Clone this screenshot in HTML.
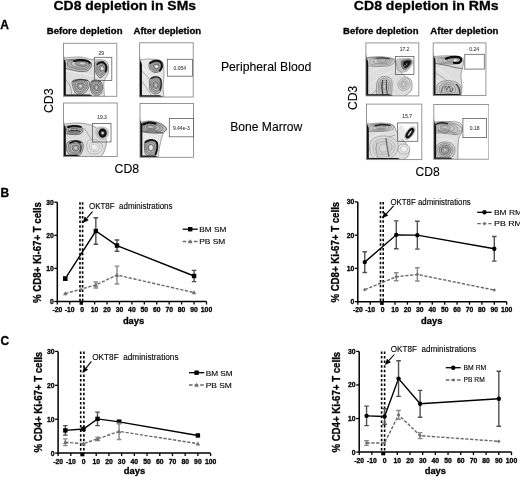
<!DOCTYPE html>
<html><head><meta charset="utf-8"><style>
html,body{margin:0;padding:0;background:#fff;width:520px;height:477px;overflow:hidden}
svg{display:block;will-change:transform}
text{font-family:"Liberation Sans", sans-serif;white-space:pre;stroke-width:0.12px}
text[font-weight=bold]{stroke-width:0.3px}
</style></head><body>
<svg width="520" height="477" viewBox="0 0 520 477">
<defs><filter id="soft" x="0" y="0" width="1" height="1"><feGaussianBlur stdDeviation="0.25"/></filter><clipPath id="clip0"><rect x="63.5" y="43.3" width="53.3" height="53.0"/></clipPath><clipPath id="clip1"><rect x="139.6" y="42.8" width="53.599999999999994" height="54.2"/></clipPath><clipPath id="clip2"><rect x="63.5" y="103" width="53.7" height="53.5"/></clipPath><clipPath id="clip3"><rect x="140" y="103.5" width="53.5" height="53.80000000000001"/></clipPath><clipPath id="clip4"><rect x="365.9" y="42.9" width="52.900000000000034" height="53.00000000000001"/></clipPath><clipPath id="clip5"><rect x="433.2" y="42.9" width="52.69999999999999" height="52.699999999999996"/></clipPath><clipPath id="clip6"><rect x="366.5" y="104.1" width="55.30000000000001" height="55.5"/></clipPath><clipPath id="clip7"><rect x="433.8" y="104.5" width="55.099999999999966" height="54.69999999999999"/></clipPath><pattern id="tex" width="6" height="5" patternUnits="userSpaceOnUse"><path d="M0,1 C2,0 4,2.5 6,1.2 M0,3.6 C1.5,4.6 4,3 6,4" fill="none" stroke="#888" stroke-width="0.4"/></pattern></defs>
<text x="53.5" y="10.3" font-size="13.3" font-weight="bold" textLength="142.5" lengthAdjust="spacingAndGlyphs" fill="#000" stroke="#000">CD8 depletion in SMs</text>
<text x="353.8" y="10.3" font-size="13.3" font-weight="bold" textLength="144.7" lengthAdjust="spacingAndGlyphs" fill="#000" stroke="#000">CD8 depletion in RMs</text>
<text x="0.3" y="28.6" font-size="12" font-weight="bold" fill="#000" stroke="#000">A</text>
<text x="46.8" y="33.8" font-size="9.4" font-weight="bold" textLength="75.7" lengthAdjust="spacingAndGlyphs" fill="#000" stroke="#000">Before depletion</text>
<text x="133.5" y="33.8" font-size="9.4" font-weight="bold" textLength="67.7" lengthAdjust="spacingAndGlyphs" fill="#000" stroke="#000">After depletion</text>
<text x="343" y="33.8" font-size="9.4" font-weight="bold" textLength="75.5" lengthAdjust="spacingAndGlyphs" fill="#000" stroke="#000">Before depletion</text>
<text x="430.2" y="33.8" font-size="9.4" font-weight="bold" textLength="68.3" lengthAdjust="spacingAndGlyphs" fill="#000" stroke="#000">After depletion</text>
<text x="220.9" y="70.9" font-size="12.2" textLength="90.5" lengthAdjust="spacingAndGlyphs" fill="#000" stroke="#000">Peripheral Blood</text>
<text x="230.2" y="130.9" font-size="12.2" textLength="72" lengthAdjust="spacingAndGlyphs" fill="#000" stroke="#000">Bone Marrow</text>
<text x="114.6" y="173.1" font-size="12.3" textLength="24.6" lengthAdjust="spacingAndGlyphs" fill="#000" stroke="#000">CD8</text>
<text x="415.5" y="175.8" font-size="12.3" textLength="24.2" lengthAdjust="spacingAndGlyphs" fill="#000" stroke="#000">CD8</text>
<text x="53.1" y="113.1" font-size="12.3" textLength="24.7" lengthAdjust="spacingAndGlyphs" transform="rotate(-90 53.1 113.1)" fill="#000" stroke="#000">CD3</text>
<text x="357.0" y="110.0" font-size="12.3" textLength="24.2" lengthAdjust="spacingAndGlyphs" transform="rotate(-90 357.0 110.0)" fill="#000" stroke="#000">CD3</text>
<g filter="url(#soft)">
<g clip-path="url(#clip0)">
<path d="M64.00,58.00 C64.00,51.58 61.33,58.17 64.00,58.00 C66.67,57.83 75.33,56.75 80.00,57.00 C84.67,57.25 87.67,58.83 92.00,59.50 C96.33,60.17 103.25,58.92 106.00,61.00 C108.75,63.08 108.83,68.50 108.50,72.00 C108.17,75.50 104.67,77.92 104.00,82.00 C103.33,86.08 104.42,94.08 104.50,96.50 C104.58,98.92 111.25,96.50 104.50,96.50 C97.75,96.50 70.75,96.50 64.00,96.50 C57.25,96.50 64.00,102.92 64.00,96.50 C64.00,90.08 64.00,64.42 64.00,58.00Z" fill="rgb(222,222,222)" stroke="#555" stroke-width="0.5"/>
<path d="M64.00,71.00 C66.00,71.25 71.33,71.75 76.00,72.50 C80.67,73.25 87.50,74.58 92.00,75.50 C96.50,76.42 101.17,77.58 103.00,78.00" fill="none" stroke="#f4f4f4" stroke-width="0.9"/>
<path d="M66.00,80.00 C66.67,81.00 69.00,83.33 70.00,86.00 C71.00,88.67 71.67,94.33 72.00,96.00" fill="none" stroke="#666" stroke-width="0.5"/>
<path d="M64.00,61.00 C65.33,59.75 69.00,59.78 72.00,59.50 C75.00,59.22 79.17,59.05 82.00,59.30 C84.83,59.55 87.42,60.05 89.00,61.00 C90.58,61.95 91.67,63.42 91.50,65.00 C91.33,66.58 89.92,69.42 88.00,70.50 C86.08,71.58 83.00,71.67 80.00,71.50 C77.00,71.33 72.67,70.25 70.00,69.50 C67.33,68.75 65.00,68.42 64.00,67.00 C63.00,65.58 62.67,62.25 64.00,61.00Z" fill="rgb(200,200,200)" stroke="#333" stroke-width="0.6"/>
<path d="M68.00,61.40 C69.07,60.40 72.00,60.43 74.40,60.20 C76.80,59.97 80.13,59.84 82.40,60.04 C84.67,60.24 86.73,60.64 88.00,61.40 C89.27,62.16 90.13,63.33 90.00,64.60 C89.87,65.87 88.73,68.13 87.20,69.00 C85.67,69.87 83.20,69.93 80.80,69.80 C78.40,69.67 74.93,68.80 72.80,68.20 C70.67,67.60 68.80,67.33 68.00,66.20 C67.20,65.07 66.93,62.40 68.00,61.40Z" fill="rgb(175,175,175)" stroke="#444" stroke-width="0.5"/>
<path d="M72.00,61.80 C72.80,61.05 75.00,61.07 76.80,60.90 C78.60,60.73 81.10,60.63 82.80,60.78 C84.50,60.93 86.05,61.23 87.00,61.80 C87.95,62.37 88.60,63.25 88.50,64.20 C88.40,65.15 87.55,66.85 86.40,67.50 C85.25,68.15 83.40,68.20 81.60,68.10 C79.80,68.00 77.20,67.35 75.60,66.90 C74.00,66.45 72.60,66.25 72.00,65.40 C71.40,64.55 71.20,62.55 72.00,61.80Z" fill="rgb(195,195,195)" stroke="#444" stroke-width="0.5"/>
<path d="M76.00,62.20 C76.53,61.70 78.00,61.71 79.20,61.60 C80.40,61.49 82.07,61.42 83.20,61.52 C84.33,61.62 85.37,61.82 86.00,62.20 C86.63,62.58 87.07,63.17 87.00,63.80 C86.93,64.43 86.37,65.57 85.60,66.00 C84.83,66.43 83.60,66.47 82.40,66.40 C81.20,66.33 79.47,65.90 78.40,65.60 C77.33,65.30 76.40,65.17 76.00,64.60 C75.60,64.03 75.47,62.70 76.00,62.20Z" fill="rgb(160,160,160)" stroke="#333" stroke-width="0.55"/>
<path d="M79.60,62.56 C79.89,62.28 80.70,62.29 81.36,62.23 C82.02,62.17 82.94,62.13 83.56,62.19 C84.18,62.24 84.75,62.35 85.10,62.56 C85.45,62.77 85.69,63.09 85.65,63.44 C85.61,63.79 85.30,64.41 84.88,64.65 C84.46,64.89 83.78,64.91 83.12,64.87 C82.46,64.83 81.51,64.59 80.92,64.43 C80.33,64.26 79.82,64.19 79.60,63.88 C79.38,63.57 79.31,62.83 79.60,62.56Z" fill="rgb(210,210,210)" stroke="#555" stroke-width="0.4"/>
<path d="M74.00,61.20 C75.00,61.00 77.83,60.07 80.00,60.00 C82.17,59.93 85.33,60.30 87.00,60.80 C88.67,61.30 89.50,62.63 90.00,63.00" fill="none" stroke="#111" stroke-width="1.8" stroke-linecap="round"/>
<path d="M95.00,63.00 C95.75,62.08 97.50,61.67 99.00,61.50 C100.50,61.33 102.67,61.25 104.00,62.00 C105.33,62.75 106.50,64.50 107.00,66.00 C107.50,67.50 107.50,69.50 107.00,71.00 C106.50,72.50 105.17,73.83 104.00,75.00 C102.83,76.17 101.33,78.33 100.00,78.00 C98.67,77.67 96.92,74.83 96.00,73.00 C95.08,71.17 94.67,68.67 94.50,67.00 C94.33,65.33 94.25,63.92 95.00,63.00Z" fill="rgb(200,200,200)" stroke="#333" stroke-width="0.6"/>
<path d="M96.40,64.00 C97.00,63.27 98.40,62.93 99.60,62.80 C100.80,62.67 102.53,62.60 103.60,63.20 C104.67,63.80 105.60,65.20 106.00,66.40 C106.40,67.60 106.40,69.20 106.00,70.40 C105.60,71.60 104.53,72.67 103.60,73.60 C102.67,74.53 101.47,76.27 100.40,76.00 C99.33,75.73 97.93,73.47 97.20,72.00 C96.47,70.53 96.13,68.53 96.00,67.20 C95.87,65.87 95.80,64.73 96.40,64.00Z" fill="rgb(175,175,175)" stroke="#444" stroke-width="0.5"/>
<path d="M97.80,65.00 C98.25,64.45 99.30,64.20 100.20,64.10 C101.10,64.00 102.40,63.95 103.20,64.40 C104.00,64.85 104.70,65.90 105.00,66.80 C105.30,67.70 105.30,68.90 105.00,69.80 C104.70,70.70 103.90,71.50 103.20,72.20 C102.50,72.90 101.60,74.20 100.80,74.00 C100.00,73.80 98.95,72.10 98.40,71.00 C97.85,69.90 97.60,68.40 97.50,67.40 C97.40,66.40 97.35,65.55 97.80,65.00Z" fill="rgb(195,195,195)" stroke="#444" stroke-width="0.5"/>
<path d="M99.20,66.00 C99.50,65.63 100.20,65.47 100.80,65.40 C101.40,65.33 102.27,65.30 102.80,65.60 C103.33,65.90 103.80,66.60 104.00,67.20 C104.20,67.80 104.20,68.60 104.00,69.20 C103.80,69.80 103.27,70.33 102.80,70.80 C102.33,71.27 101.73,72.13 101.20,72.00 C100.67,71.87 99.97,70.73 99.60,70.00 C99.23,69.27 99.07,68.27 99.00,67.60 C98.93,66.93 98.90,66.37 99.20,66.00Z" fill="rgb(160,160,160)" stroke="#333" stroke-width="0.55"/>
<path d="M100.46,66.90 C100.62,66.70 101.01,66.61 101.34,66.57 C101.67,66.53 102.15,66.51 102.44,66.68 C102.73,66.84 102.99,67.23 103.10,67.56 C103.21,67.89 103.21,68.33 103.10,68.66 C102.99,68.99 102.70,69.28 102.44,69.54 C102.18,69.80 101.85,70.27 101.56,70.20 C101.27,70.13 100.88,69.50 100.68,69.10 C100.48,68.70 100.39,68.15 100.35,67.78 C100.31,67.41 100.29,67.10 100.46,66.90Z" fill="rgb(210,210,210)" stroke="#555" stroke-width="0.4"/>
<path d="M97.50,64.00 C98.08,63.72 99.83,62.42 101.00,62.30 C102.17,62.18 103.62,62.52 104.50,63.30 C105.38,64.08 106.12,65.63 106.30,67.00 C106.48,68.37 105.72,70.75 105.60,71.50" fill="none" stroke="#111" stroke-width="1.8" stroke-linecap="round"/>
<circle cx="102.4" cy="68.6" r="1.2" fill="#fff"/>
<path d="M72.50,81.00 C73.67,79.72 77.42,79.38 80.00,79.30 C82.58,79.22 86.42,79.55 88.00,80.50 C89.58,81.45 89.75,83.25 89.50,85.00 C89.25,86.75 87.92,89.28 86.50,91.00 C85.08,92.72 82.75,94.88 81.00,95.30 C79.25,95.72 77.33,94.88 76.00,93.50 C74.67,92.12 73.58,89.08 73.00,87.00 C72.42,84.92 71.33,82.28 72.50,81.00Z" fill="rgb(200,200,200)" stroke="#333" stroke-width="0.6"/>
<path d="M74.10,82.00 C75.03,80.97 78.03,80.71 80.10,80.64 C82.17,80.57 85.23,80.84 86.50,81.60 C87.77,82.36 87.90,83.80 87.70,85.20 C87.50,86.60 86.43,88.63 85.30,90.00 C84.17,91.37 82.30,93.11 80.90,93.44 C79.50,93.77 77.97,93.11 76.90,92.00 C75.83,90.89 74.97,88.47 74.50,86.80 C74.03,85.13 73.17,83.03 74.10,82.00Z" fill="rgb(175,175,175)" stroke="#444" stroke-width="0.5"/>
<path d="M75.70,83.00 C76.40,82.23 78.65,82.03 80.20,81.98 C81.75,81.93 84.05,82.13 85.00,82.70 C85.95,83.27 86.05,84.35 85.90,85.40 C85.75,86.45 84.95,87.97 84.10,89.00 C83.25,90.03 81.85,91.33 80.80,91.58 C79.75,91.83 78.60,91.33 77.80,90.50 C77.00,89.67 76.35,87.85 76.00,86.60 C75.65,85.35 75.00,83.77 75.70,83.00Z" fill="rgb(195,195,195)" stroke="#444" stroke-width="0.5"/>
<path d="M77.30,84.00 C77.77,83.49 79.27,83.35 80.30,83.32 C81.33,83.29 82.87,83.42 83.50,83.80 C84.13,84.18 84.20,84.90 84.10,85.60 C84.00,86.30 83.47,87.31 82.90,88.00 C82.33,88.69 81.40,89.55 80.70,89.72 C80.00,89.89 79.23,89.55 78.70,89.00 C78.17,88.45 77.73,87.23 77.50,86.40 C77.27,85.57 76.83,84.51 77.30,84.00Z" fill="rgb(160,160,160)" stroke="#333" stroke-width="0.55"/>
<path d="M78.74,84.90 C79.00,84.62 79.82,84.54 80.39,84.53 C80.96,84.51 81.80,84.58 82.15,84.79 C82.50,85.00 82.54,85.40 82.48,85.78 C82.42,86.16 82.13,86.72 81.82,87.10 C81.51,87.48 81.00,87.95 80.61,88.05 C80.22,88.14 79.80,87.95 79.51,87.65 C79.22,87.35 78.98,86.68 78.85,86.22 C78.72,85.76 78.48,85.18 78.74,84.90Z" fill="rgb(210,210,210)" stroke="#555" stroke-width="0.4"/>
<path d="M73.00,81.50 C74.17,81.18 77.58,79.75 80.00,79.60 C82.42,79.45 86.25,80.43 87.50,80.60" fill="none" stroke="#333" stroke-width="1.0" stroke-linecap="round"/>
<path d="M91.00,82.00 C91.83,80.17 94.33,80.00 96.00,80.00 C97.67,80.00 99.92,80.67 101.00,82.00 C102.08,83.33 102.67,85.92 102.50,88.00 C102.33,90.08 101.25,93.25 100.00,94.50 C98.75,95.75 96.50,96.08 95.00,95.50 C93.50,94.92 91.67,93.25 91.00,91.00 C90.33,88.75 90.17,83.83 91.00,82.00Z" fill="rgb(200,200,200)" stroke="#333" stroke-width="0.6"/>
<path d="M92.10,83.10 C92.77,81.63 94.77,81.50 96.10,81.50 C97.43,81.50 99.23,82.03 100.10,83.10 C100.97,84.17 101.43,86.23 101.30,87.90 C101.17,89.57 100.30,92.10 99.30,93.10 C98.30,94.10 96.50,94.37 95.30,93.90 C94.10,93.43 92.63,92.10 92.10,90.30 C91.57,88.50 91.43,84.57 92.10,83.10Z" fill="rgb(175,175,175)" stroke="#444" stroke-width="0.5"/>
<path d="M93.20,84.20 C93.70,83.10 95.20,83.00 96.20,83.00 C97.20,83.00 98.55,83.40 99.20,84.20 C99.85,85.00 100.20,86.55 100.10,87.80 C100.00,89.05 99.35,90.95 98.60,91.70 C97.85,92.45 96.50,92.65 95.60,92.30 C94.70,91.95 93.60,90.95 93.20,89.60 C92.80,88.25 92.70,85.30 93.20,84.20Z" fill="rgb(195,195,195)" stroke="#444" stroke-width="0.5"/>
<path d="M94.30,85.30 C94.63,84.57 95.63,84.50 96.30,84.50 C96.97,84.50 97.87,84.77 98.30,85.30 C98.73,85.83 98.97,86.87 98.90,87.70 C98.83,88.53 98.40,89.80 97.90,90.30 C97.40,90.80 96.50,90.93 95.90,90.70 C95.30,90.47 94.57,89.80 94.30,88.90 C94.03,88.00 93.97,86.03 94.30,85.30Z" fill="rgb(160,160,160)" stroke="#333" stroke-width="0.55"/>
<path d="M95.29,86.29 C95.47,85.89 96.02,85.85 96.39,85.85 C96.76,85.85 97.25,86.00 97.49,86.29 C97.73,86.58 97.86,87.15 97.82,87.61 C97.78,88.07 97.54,88.77 97.27,89.04 C97.00,89.32 96.50,89.39 96.17,89.26 C95.84,89.13 95.44,88.77 95.29,88.27 C95.14,87.77 95.11,86.69 95.29,86.29Z" fill="rgb(210,210,210)" stroke="#555" stroke-width="0.4"/>
<path d="M91.50,82.00 C92.25,81.72 94.50,80.30 96.00,80.30 C97.50,80.30 99.75,81.72 100.50,82.00" fill="none" stroke="#333" stroke-width="0.9" stroke-linecap="round"/>
<path d="M63.5,58.5 C64.7,60 65.8,62 65.8,64 L65.8,96.3 L63.5,96.3 Z" fill="#0a0a0a"/>
<path d="M63.5,94.6 L89,94.6 C91,94.8 92,95.7 93,96.3 L63.5,96.3 Z" fill="#1a1a1a"/>
</g>
<rect x="63.5" y="43.3" width="53.3" height="53.0" fill="none" stroke="#8a8a8a" stroke-width="0.9"/>
<rect x="94.6" y="57.3" width="17.200000000000003" height="23.10000000000001" fill="none" stroke="#606060" stroke-width="0.8"/>
<text x="101.3" y="55.2" font-size="5" text-anchor="middle" fill="#444" stroke="#444" style="stroke-width:0.1px">29</text>
<g clip-path="url(#clip1)">
<path d="M140.00,60.00 C140.00,53.75 138.33,60.17 140.00,60.00 C141.67,59.83 146.33,58.75 150.00,59.00 C153.67,59.25 159.67,59.00 162.00,61.50 C164.33,64.00 163.83,69.92 164.00,74.00 C164.17,78.08 163.00,82.08 163.00,86.00 C163.00,89.92 163.83,95.58 164.00,97.50 C164.17,99.42 168.00,97.50 164.00,97.50 C160.00,97.50 144.00,97.50 140.00,97.50 C136.00,97.50 140.00,103.75 140.00,97.50 C140.00,91.25 140.00,66.25 140.00,60.00Z" fill="rgb(230,230,230)" stroke="#555" stroke-width="0.5"/>
<path d="M141.00,70.00 C142.50,71.67 147.17,76.33 150.00,80.00 C152.83,83.67 156.67,90.00 158.00,92.00" fill="none" stroke="#666" stroke-width="0.45"/>
<path d="M141.00,80.00 C142.17,81.67 146.17,87.33 148.00,90.00 C149.83,92.67 151.33,95.00 152.00,96.00" fill="none" stroke="#666" stroke-width="0.45"/>
<path d="M141.00,64.00 C142.00,65.67 145.50,72.00 147.00,74.00 C148.50,76.00 149.50,75.67 150.00,76.00" fill="none" stroke="#f2f2f2" stroke-width="0.8"/>
<path d="M150.00,62.00 C151.00,61.08 153.17,60.58 155.00,60.50 C156.83,60.42 159.75,60.58 161.00,61.50 C162.25,62.42 162.67,64.42 162.50,66.00 C162.33,67.58 161.25,69.92 160.00,71.00 C158.75,72.08 156.58,72.67 155.00,72.50 C153.42,72.33 151.50,71.08 150.50,70.00 C149.50,68.92 149.08,67.33 149.00,66.00 C148.92,64.67 149.00,62.92 150.00,62.00Z" fill="rgb(200,200,200)" stroke="#333" stroke-width="0.6"/>
<path d="M151.30,62.90 C152.10,62.17 153.83,61.77 155.30,61.70 C156.77,61.63 159.10,61.77 160.10,62.50 C161.10,63.23 161.43,64.83 161.30,66.10 C161.17,67.37 160.30,69.23 159.30,70.10 C158.30,70.97 156.57,71.43 155.30,71.30 C154.03,71.17 152.50,70.17 151.70,69.30 C150.90,68.43 150.57,67.17 150.50,66.10 C150.43,65.03 150.50,63.63 151.30,62.90Z" fill="rgb(175,175,175)" stroke="#444" stroke-width="0.5"/>
<path d="M152.60,63.80 C153.20,63.25 154.50,62.95 155.60,62.90 C156.70,62.85 158.45,62.95 159.20,63.50 C159.95,64.05 160.20,65.25 160.10,66.20 C160.00,67.15 159.35,68.55 158.60,69.20 C157.85,69.85 156.55,70.20 155.60,70.10 C154.65,70.00 153.50,69.25 152.90,68.60 C152.30,67.95 152.05,67.00 152.00,66.20 C151.95,65.40 152.00,64.35 152.60,63.80Z" fill="rgb(195,195,195)" stroke="#444" stroke-width="0.5"/>
<path d="M153.90,64.70 C154.30,64.33 155.17,64.13 155.90,64.10 C156.63,64.07 157.80,64.13 158.30,64.50 C158.80,64.87 158.97,65.67 158.90,66.30 C158.83,66.93 158.40,67.87 157.90,68.30 C157.40,68.73 156.53,68.97 155.90,68.90 C155.27,68.83 154.50,68.33 154.10,67.90 C153.70,67.47 153.53,66.83 153.50,66.30 C153.47,65.77 153.50,65.07 153.90,64.70Z" fill="rgb(160,160,160)" stroke="#333" stroke-width="0.55"/>
<path d="M155.07,65.51 C155.29,65.31 155.77,65.20 156.17,65.18 C156.57,65.16 157.22,65.20 157.49,65.40 C157.77,65.60 157.86,66.04 157.82,66.39 C157.78,66.74 157.55,67.25 157.27,67.49 C157.00,67.73 156.52,67.86 156.17,67.82 C155.82,67.78 155.40,67.51 155.18,67.27 C154.96,67.03 154.87,66.68 154.85,66.39 C154.83,66.10 154.85,65.71 155.07,65.51Z" fill="rgb(210,210,210)" stroke="#555" stroke-width="0.4"/>
<path d="M150.30,63.00 C151.08,62.63 153.30,60.97 155.00,60.80 C156.70,60.63 159.33,61.05 160.50,62.00 C161.67,62.95 162.08,65.08 162.00,66.50 C161.92,67.92 160.33,69.83 160.00,70.50" fill="none" stroke="#111" stroke-width="2.0" stroke-linecap="round"/>
<ellipse cx="156.6" cy="66.6" rx="1.6" ry="1.2" fill="#fff"/>
<path d="M150.00,79.00 C150.92,77.58 153.25,76.58 155.00,76.50 C156.75,76.42 159.42,77.08 160.50,78.50 C161.58,79.92 161.58,82.75 161.50,85.00 C161.42,87.25 161.08,90.50 160.00,92.00 C158.92,93.50 156.58,94.17 155.00,94.00 C153.42,93.83 151.42,92.50 150.50,91.00 C149.58,89.50 149.58,87.00 149.50,85.00 C149.42,83.00 149.08,80.42 150.00,79.00Z" fill="rgb(200,200,200)" stroke="#333" stroke-width="0.6"/>
<path d="M151.20,80.20 C151.93,79.07 153.80,78.27 155.20,78.20 C156.60,78.13 158.73,78.67 159.60,79.80 C160.47,80.93 160.47,83.20 160.40,85.00 C160.33,86.80 160.07,89.40 159.20,90.60 C158.33,91.80 156.47,92.33 155.20,92.20 C153.93,92.07 152.33,91.00 151.60,89.80 C150.87,88.60 150.87,86.60 150.80,85.00 C150.73,83.40 150.47,81.33 151.20,80.20Z" fill="rgb(175,175,175)" stroke="#444" stroke-width="0.5"/>
<path d="M152.40,81.40 C152.95,80.55 154.35,79.95 155.40,79.90 C156.45,79.85 158.05,80.25 158.70,81.10 C159.35,81.95 159.35,83.65 159.30,85.00 C159.25,86.35 159.05,88.30 158.40,89.20 C157.75,90.10 156.35,90.50 155.40,90.40 C154.45,90.30 153.25,89.50 152.70,88.60 C152.15,87.70 152.15,86.20 152.10,85.00 C152.05,83.80 151.85,82.25 152.40,81.40Z" fill="rgb(195,195,195)" stroke="#444" stroke-width="0.5"/>
<path d="M153.60,82.60 C153.97,82.03 154.90,81.63 155.60,81.60 C156.30,81.57 157.37,81.83 157.80,82.40 C158.23,82.97 158.23,84.10 158.20,85.00 C158.17,85.90 158.03,87.20 157.60,87.80 C157.17,88.40 156.23,88.67 155.60,88.60 C154.97,88.53 154.17,88.00 153.80,87.40 C153.43,86.80 153.43,85.80 153.40,85.00 C153.37,84.20 153.23,83.17 153.60,82.60Z" fill="rgb(160,160,160)" stroke="#333" stroke-width="0.55"/>
<path d="M154.68,83.68 C154.88,83.37 155.40,83.15 155.78,83.13 C156.16,83.11 156.75,83.26 156.99,83.57 C157.23,83.88 157.23,84.50 157.21,85.00 C157.19,85.50 157.12,86.21 156.88,86.54 C156.64,86.87 156.13,87.02 155.78,86.98 C155.43,86.94 154.99,86.65 154.79,86.32 C154.59,85.99 154.59,85.44 154.57,85.00 C154.55,84.56 154.48,83.99 154.68,83.68Z" fill="rgb(210,210,210)" stroke="#555" stroke-width="0.4"/>
<path d="M151.00,78.50 C151.75,78.22 154.00,76.80 155.50,76.80 C157.00,76.80 159.03,77.30 160.00,78.50 C160.97,79.70 161.30,82.08 161.30,84.00 C161.30,85.92 160.22,89.00 160.00,90.00" fill="none" stroke="#222" stroke-width="1.3" stroke-linecap="round"/>
<path d="M139.6,59.8 C140.79999999999998,61.3 141.9,63.3 141.9,65.3 L141.9,97 L139.6,97 Z" fill="#0a0a0a"/>
<path d="M139.6,95.3 L159,95.3 C161,95.5 162,96.4 163,97 L139.6,97 Z" fill="#1a1a1a"/>
</g>
<rect x="139.6" y="42.8" width="53.599999999999994" height="54.2" fill="none" stroke="#8a8a8a" stroke-width="0.9"/>
<rect x="167.3" y="59.3" width="25.099999999999994" height="16.900000000000006" fill="none" stroke="#606060" stroke-width="0.8"/>
<text x="179.8" y="69.6" font-size="5" text-anchor="middle" fill="#444" stroke="#444" style="stroke-width:0.1px">0.054</text>
<g clip-path="url(#clip2)">
<path d="M64.00,124.00 C64.00,118.50 61.33,124.17 64.00,124.00 C66.67,123.83 74.83,122.50 80.00,123.00 C85.17,123.50 90.67,124.33 95.00,127.00 C99.33,129.67 104.50,134.83 106.00,139.00 C107.50,143.17 105.00,149.00 104.00,152.00 C103.00,155.00 100.67,156.17 100.00,157.00 C99.33,157.83 106.00,157.00 100.00,157.00 C94.00,157.00 70.00,157.00 64.00,157.00 C58.00,157.00 64.00,162.50 64.00,157.00 C64.00,151.50 64.00,129.50 64.00,124.00Z" fill="rgb(222,222,222)" stroke="#555" stroke-width="0.5"/>
<path d="M88.00,141.00 C89.33,139.67 92.83,139.67 95.00,140.00 C97.17,140.33 99.83,141.50 101.00,143.00 C102.17,144.50 102.67,147.25 102.00,149.00 C101.33,150.75 99.00,152.83 97.00,153.50 C95.00,154.17 91.67,153.92 90.00,153.00 C88.33,152.08 87.33,150.00 87.00,148.00 C86.67,146.00 86.67,142.33 88.00,141.00Z" fill="rgb(236,236,236)" stroke="#777" stroke-width="0.45"/>
<path d="M90.01,142.86 C90.94,141.93 93.39,141.93 94.91,142.16 C96.43,142.39 98.29,143.21 99.11,144.26 C99.93,145.31 100.28,147.24 99.81,148.46 C99.34,149.69 97.71,151.14 96.31,151.61 C94.91,152.08 92.58,151.90 91.41,151.26 C90.24,150.62 89.54,149.16 89.31,147.76 C89.08,146.36 89.08,143.79 90.01,142.86Z" fill="rgb(226,226,226)" stroke="#888" stroke-width="0.45"/>
<path d="M92.02,144.72 C92.55,144.19 93.95,144.19 94.82,144.32 C95.69,144.45 96.75,144.92 97.22,145.52 C97.69,146.12 97.89,147.22 97.62,147.92 C97.35,148.62 96.42,149.45 95.62,149.72 C94.82,149.99 93.49,149.89 92.82,149.52 C92.15,149.15 91.75,148.32 91.62,147.52 C91.49,146.72 91.49,145.25 92.02,144.72Z" fill="rgb(240,240,240)" stroke="#999" stroke-width="0.4"/>
<path d="M84.00,128.00 C84.67,129.00 86.67,132.00 88.00,134.00 C89.33,136.00 91.33,139.00 92.00,140.00" fill="none" stroke="#777" stroke-width="0.5"/>
<path d="M65.00,127.00 C66.17,125.75 69.50,125.67 72.00,125.50 C74.50,125.33 78.17,125.25 80.00,126.00 C81.83,126.75 83.00,128.67 83.00,130.00 C83.00,131.33 81.83,133.25 80.00,134.00 C78.17,134.75 74.50,134.67 72.00,134.50 C69.50,134.33 66.17,134.25 65.00,133.00 C63.83,131.75 63.83,128.25 65.00,127.00Z" fill="rgb(200,200,200)" stroke="#333" stroke-width="0.6"/>
<path d="M67.00,127.60 C67.93,126.60 70.60,126.53 72.60,126.40 C74.60,126.27 77.53,126.20 79.00,126.80 C80.47,127.40 81.40,128.93 81.40,130.00 C81.40,131.07 80.47,132.60 79.00,133.20 C77.53,133.80 74.60,133.73 72.60,133.60 C70.60,133.47 67.93,133.40 67.00,132.40 C66.07,131.40 66.07,128.60 67.00,127.60Z" fill="rgb(175,175,175)" stroke="#444" stroke-width="0.5"/>
<path d="M69.00,128.20 C69.70,127.45 71.70,127.40 73.20,127.30 C74.70,127.20 76.90,127.15 78.00,127.60 C79.10,128.05 79.80,129.20 79.80,130.00 C79.80,130.80 79.10,131.95 78.00,132.40 C76.90,132.85 74.70,132.80 73.20,132.70 C71.70,132.60 69.70,132.55 69.00,131.80 C68.30,131.05 68.30,128.95 69.00,128.20Z" fill="rgb(195,195,195)" stroke="#444" stroke-width="0.5"/>
<path d="M71.00,128.80 C71.47,128.30 72.80,128.27 73.80,128.20 C74.80,128.13 76.27,128.10 77.00,128.40 C77.73,128.70 78.20,129.47 78.20,130.00 C78.20,130.53 77.73,131.30 77.00,131.60 C76.27,131.90 74.80,131.87 73.80,131.80 C72.80,131.73 71.47,131.70 71.00,131.20 C70.53,130.70 70.53,129.30 71.00,128.80Z" fill="rgb(160,160,160)" stroke="#333" stroke-width="0.55"/>
<path d="M72.80,129.34 C73.06,129.06 73.79,129.05 74.34,129.01 C74.89,128.97 75.70,128.96 76.10,129.12 C76.50,129.28 76.76,129.71 76.76,130.00 C76.76,130.29 76.50,130.72 76.10,130.88 C75.70,131.04 74.89,131.03 74.34,130.99 C73.79,130.95 73.06,130.94 72.80,130.66 C72.54,130.38 72.54,129.62 72.80,129.34Z" fill="rgb(210,210,210)" stroke="#555" stroke-width="0.4"/>
<path d="M68.00,127.20 C69.00,126.97 71.83,125.83 74.00,125.80 C76.17,125.77 79.83,126.80 81.00,127.00" fill="none" stroke="#111" stroke-width="1.7" stroke-linecap="round"/>
<path d="M69.00,131.30 C70.00,131.13 73.17,130.27 75.00,130.30 C76.83,130.33 79.17,131.30 80.00,131.50" fill="none" stroke="#333" stroke-width="1.1" stroke-linecap="round"/>
<path d="M68.00,142.00 C69.42,140.92 72.67,140.50 75.00,140.50 C77.33,140.50 80.67,140.75 82.00,142.00 C83.33,143.25 83.33,145.83 83.00,148.00 C82.67,150.17 81.50,153.67 80.00,155.00 C78.50,156.33 76.00,156.33 74.00,156.00 C72.00,155.67 69.25,154.50 68.00,153.00 C66.75,151.50 66.50,148.83 66.50,147.00 C66.50,145.17 66.58,143.08 68.00,142.00Z" fill="rgb(200,200,200)" stroke="#333" stroke-width="0.6"/>
<path d="M69.60,143.20 C70.73,142.33 73.33,142.00 75.20,142.00 C77.07,142.00 79.73,142.20 80.80,143.20 C81.87,144.20 81.87,146.27 81.60,148.00 C81.33,149.73 80.40,152.53 79.20,153.60 C78.00,154.67 76.00,154.67 74.40,154.40 C72.80,154.13 70.60,153.20 69.60,152.00 C68.60,150.80 68.40,148.67 68.40,147.20 C68.40,145.73 68.47,144.07 69.60,143.20Z" fill="rgb(175,175,175)" stroke="#444" stroke-width="0.5"/>
<path d="M71.20,144.40 C72.05,143.75 74.00,143.50 75.40,143.50 C76.80,143.50 78.80,143.65 79.60,144.40 C80.40,145.15 80.40,146.70 80.20,148.00 C80.00,149.30 79.30,151.40 78.40,152.20 C77.50,153.00 76.00,153.00 74.80,152.80 C73.60,152.60 71.95,151.90 71.20,151.00 C70.45,150.10 70.30,148.50 70.30,147.40 C70.30,146.30 70.35,145.05 71.20,144.40Z" fill="rgb(195,195,195)" stroke="#444" stroke-width="0.5"/>
<path d="M72.80,145.60 C73.37,145.17 74.67,145.00 75.60,145.00 C76.53,145.00 77.87,145.10 78.40,145.60 C78.93,146.10 78.93,147.13 78.80,148.00 C78.67,148.87 78.20,150.27 77.60,150.80 C77.00,151.33 76.00,151.33 75.20,151.20 C74.40,151.07 73.30,150.60 72.80,150.00 C72.30,149.40 72.20,148.33 72.20,147.60 C72.20,146.87 72.23,146.03 72.80,145.60Z" fill="rgb(160,160,160)" stroke="#333" stroke-width="0.55"/>
<path d="M74.24,146.68 C74.55,146.44 75.27,146.35 75.78,146.35 C76.29,146.35 77.03,146.41 77.32,146.68 C77.61,146.96 77.61,147.52 77.54,148.00 C77.47,148.48 77.21,149.25 76.88,149.54 C76.55,149.83 76.00,149.83 75.56,149.76 C75.12,149.69 74.52,149.43 74.24,149.10 C73.96,148.77 73.91,148.18 73.91,147.78 C73.91,147.38 73.93,146.92 74.24,146.68Z" fill="rgb(210,210,210)" stroke="#555" stroke-width="0.4"/>
<path d="M70.00,143.00 C70.92,142.67 73.75,141.08 75.50,141.00 C77.25,140.92 79.67,142.25 80.50,142.50" fill="none" stroke="#111" stroke-width="1.7" stroke-linecap="round"/>
<path d="M79.00,143.00 C79.33,143.67 80.83,145.50 81.00,147.00 C81.17,148.50 80.17,151.17 80.00,152.00" fill="none" stroke="#333" stroke-width="1.0" stroke-linecap="round"/>
<path d="M97.00,128.00 C98.07,127.00 100.65,126.83 102.40,127.00 C104.15,127.17 106.48,127.92 107.50,129.00 C108.52,130.08 108.67,132.00 108.50,133.50 C108.33,135.00 107.58,137.00 106.50,138.00 C105.42,139.00 103.50,139.58 102.00,139.50 C100.50,139.42 98.50,138.58 97.50,137.50 C96.50,136.42 96.08,134.58 96.00,133.00 C95.92,131.42 95.93,129.00 97.00,128.00Z" fill="rgb(225,225,225)" stroke="#888" stroke-width="0.45"/>
<path d="M98.08,129.06 C98.93,128.26 101.00,128.13 102.40,128.26 C103.80,128.39 105.67,128.99 106.48,129.86 C107.29,130.73 107.41,132.26 107.28,133.46 C107.15,134.66 106.55,136.26 105.68,137.06 C104.81,137.86 103.28,138.33 102.08,138.26 C100.88,138.19 99.28,137.53 98.48,136.66 C97.68,135.79 97.35,134.33 97.28,133.06 C97.21,131.79 97.23,129.86 98.08,129.06Z" fill="rgb(200,200,200)" stroke="#777" stroke-width="0.45"/>
<ellipse cx="102.6" cy="133.1" rx="3.1" ry="3.6" fill="rgb(70,70,70)" stroke="#0a0a0a" stroke-width="2.0"/>
<circle cx="102.6" cy="133.1" r="1.15" fill="#fff"/>
<path d="M63.5,124.0 C64.7,125.5 65.8,127.5 65.8,129.5 L65.8,156.5 L63.5,156.5 Z" fill="#0a0a0a"/>
<path d="M63.5,154.8 L76,154.8 C78,155.0 79,155.9 80,156.5 L63.5,156.5 Z" fill="#1a1a1a"/>
</g>
<rect x="63.5" y="103" width="53.7" height="53.5" fill="none" stroke="#8a8a8a" stroke-width="0.9"/>
<rect x="92.5" y="123.4" width="18.5" height="18.599999999999994" fill="none" stroke="#606060" stroke-width="0.8"/>
<text x="102" y="118.6" font-size="5" text-anchor="middle" fill="#444" stroke="#444" style="stroke-width:0.1px">19.3</text>
<g clip-path="url(#clip3)">
<path d="M140.50,122.00 C140.50,116.00 138.58,122.17 140.50,122.00 C142.42,121.83 148.42,120.67 152.00,121.00 C155.58,121.33 159.58,122.67 162.00,124.00 C164.42,125.33 166.33,127.33 166.50,129.00 C166.67,130.67 164.08,131.33 163.00,134.00 C161.92,136.67 160.83,141.00 160.00,145.00 C159.17,149.00 158.33,155.83 158.00,158.00 C157.67,160.17 160.92,158.00 158.00,158.00 C155.08,158.00 143.42,158.00 140.50,158.00 C137.58,158.00 140.50,164.00 140.50,158.00 C140.50,152.00 140.50,128.00 140.50,122.00Z" fill="rgb(232,232,232)" stroke="#555" stroke-width="0.5"/>
<path d="M141.00,135.00 C142.17,135.50 145.83,137.17 148.00,138.00 C150.17,138.83 153.00,139.67 154.00,140.00" fill="none" stroke="#f2f2f2" stroke-width="0.8"/>
<path d="M141.00,124.00 C141.83,122.47 145.50,122.05 148.00,121.80 C150.50,121.55 153.50,121.88 156.00,122.50 C158.50,123.12 161.25,124.42 163.00,125.50 C164.75,126.58 166.67,127.83 166.50,129.00 C166.33,130.17 164.42,132.00 162.00,132.50 C159.58,133.00 155.17,132.25 152.00,132.00 C148.83,131.75 144.83,132.33 143.00,131.00 C141.17,129.67 140.17,125.53 141.00,124.00Z" fill="rgb(200,200,200)" stroke="#333" stroke-width="0.6"/>
<path d="M142.80,124.60 C143.47,123.37 146.40,123.04 148.40,122.84 C150.40,122.64 152.80,122.91 154.80,123.40 C156.80,123.89 159.00,124.93 160.40,125.80 C161.80,126.67 163.33,127.67 163.20,128.60 C163.07,129.53 161.53,131.00 159.60,131.40 C157.67,131.80 154.13,131.20 151.60,131.00 C149.07,130.80 145.87,131.27 144.40,130.20 C142.93,129.13 142.13,125.83 142.80,124.60Z" fill="rgb(175,175,175)" stroke="#444" stroke-width="0.5"/>
<path d="M144.60,125.20 C145.10,124.28 147.30,124.03 148.80,123.88 C150.30,123.73 152.10,123.93 153.60,124.30 C155.10,124.67 156.75,125.45 157.80,126.10 C158.85,126.75 160.00,127.50 159.90,128.20 C159.80,128.90 158.65,130.00 157.20,130.30 C155.75,130.60 153.10,130.15 151.20,130.00 C149.30,129.85 146.90,130.20 145.80,129.40 C144.70,128.60 144.10,126.12 144.60,125.20Z" fill="rgb(195,195,195)" stroke="#444" stroke-width="0.5"/>
<path d="M146.40,125.80 C146.73,125.19 148.20,125.02 149.20,124.92 C150.20,124.82 151.40,124.95 152.40,125.20 C153.40,125.45 154.50,125.97 155.20,126.40 C155.90,126.83 156.67,127.33 156.60,127.80 C156.53,128.27 155.77,129.00 154.80,129.20 C153.83,129.40 152.07,129.10 150.80,129.00 C149.53,128.90 147.93,129.13 147.20,128.60 C146.47,128.07 146.07,126.41 146.40,125.80Z" fill="rgb(160,160,160)" stroke="#333" stroke-width="0.55"/>
<path d="M148.02,126.34 C148.20,126.00 149.01,125.91 149.56,125.86 C150.11,125.80 150.77,125.87 151.32,126.01 C151.87,126.15 152.48,126.43 152.86,126.67 C153.25,126.91 153.67,127.18 153.63,127.44 C153.59,127.70 153.17,128.10 152.64,128.21 C152.11,128.32 151.14,128.16 150.44,128.10 C149.74,128.04 148.86,128.17 148.46,127.88 C148.06,127.59 147.84,126.68 148.02,126.34Z" fill="rgb(210,210,210)" stroke="#555" stroke-width="0.4"/>
<path d="M143.00,124.50 C144.00,124.15 146.92,122.57 149.00,122.40 C151.08,122.23 154.42,123.32 155.50,123.50" fill="none" stroke="#111" stroke-width="2.0" stroke-linecap="round"/>
<path d="M141.00,131.50 C142.83,131.75 148.33,132.75 152.00,133.00 C155.67,133.25 161.17,133.00 163.00,133.00" fill="none" stroke="#333" stroke-width="0.7"/>
<path d="M145.00,141.50 C146.08,140.25 149.08,139.50 151.00,139.50 C152.92,139.50 155.42,140.08 156.50,141.50 C157.58,142.92 157.67,145.75 157.50,148.00 C157.33,150.25 156.75,153.58 155.50,155.00 C154.25,156.42 151.67,156.67 150.00,156.50 C148.33,156.33 146.42,155.58 145.50,154.00 C144.58,152.42 144.58,149.08 144.50,147.00 C144.42,144.92 143.92,142.75 145.00,141.50Z" fill="rgb(200,200,200)" stroke="#333" stroke-width="0.6"/>
<path d="M146.10,142.70 C146.97,141.70 149.37,141.10 150.90,141.10 C152.43,141.10 154.43,141.57 155.30,142.70 C156.17,143.83 156.23,146.10 156.10,147.90 C155.97,149.70 155.50,152.37 154.50,153.50 C153.50,154.63 151.43,154.83 150.10,154.70 C148.77,154.57 147.23,153.97 146.50,152.70 C145.77,151.43 145.77,148.77 145.70,147.10 C145.63,145.43 145.23,143.70 146.10,142.70Z" fill="rgb(175,175,175)" stroke="#444" stroke-width="0.5"/>
<path d="M147.20,143.90 C147.85,143.15 149.65,142.70 150.80,142.70 C151.95,142.70 153.45,143.05 154.10,143.90 C154.75,144.75 154.80,146.45 154.70,147.80 C154.60,149.15 154.25,151.15 153.50,152.00 C152.75,152.85 151.20,153.00 150.20,152.90 C149.20,152.80 148.05,152.35 147.50,151.40 C146.95,150.45 146.95,148.45 146.90,147.20 C146.85,145.95 146.55,144.65 147.20,143.90Z" fill="rgb(195,195,195)" stroke="#444" stroke-width="0.5"/>
<path d="M148.30,145.10 C148.73,144.60 149.93,144.30 150.70,144.30 C151.47,144.30 152.47,144.53 152.90,145.10 C153.33,145.67 153.37,146.80 153.30,147.70 C153.23,148.60 153.00,149.93 152.50,150.50 C152.00,151.07 150.97,151.17 150.30,151.10 C149.63,151.03 148.87,150.73 148.50,150.10 C148.13,149.47 148.13,148.13 148.10,147.30 C148.07,146.47 147.87,145.60 148.30,145.10Z" fill="rgb(160,160,160)" stroke="#333" stroke-width="0.55"/>
<path d="M149.29,146.18 C149.53,145.91 150.19,145.74 150.61,145.74 C151.03,145.74 151.58,145.87 151.82,146.18 C152.06,146.49 152.08,147.12 152.04,147.61 C152.00,148.11 151.88,148.84 151.60,149.15 C151.32,149.46 150.76,149.52 150.39,149.48 C150.02,149.44 149.60,149.28 149.40,148.93 C149.20,148.58 149.20,147.85 149.18,147.39 C149.16,146.93 149.05,146.46 149.29,146.18Z" fill="rgb(210,210,210)" stroke="#555" stroke-width="0.4"/>
<path d="M145.50,142.00 C146.42,141.63 149.17,139.80 151.00,139.80 C152.83,139.80 155.45,140.63 156.50,142.00 C157.55,143.37 157.47,145.92 157.30,148.00 C157.13,150.08 155.80,153.42 155.50,154.50" fill="none" stroke="#111" stroke-width="1.8" stroke-linecap="round"/>
<ellipse cx="151" cy="147.5" rx="1.8" ry="2.6" fill="rgb(230,230,230)"/>
<path d="M140,120.7 C141.2,122.2 142.3,124.2 142.3,126.2 L142.3,157.3 L140,157.3 Z" fill="#0a0a0a"/>
<path d="M140,155.60000000000002 L154,155.60000000000002 C156,155.8 157,156.70000000000002 158,157.3 L140,157.3 Z" fill="#1a1a1a"/>
</g>
<rect x="140" y="103.5" width="53.5" height="53.80000000000001" fill="none" stroke="#8a8a8a" stroke-width="0.9"/>
<rect x="169.3" y="118.4" width="24.19999999999999" height="18.400000000000006" fill="none" stroke="#606060" stroke-width="0.8"/>
<text x="181.4" y="129.6" font-size="5" text-anchor="middle" fill="#444" stroke="#444" style="stroke-width:0.1px">9.44e-3</text>
<g clip-path="url(#clip4)">
<path d="M366.30,57.50 C366.30,51.00 364.02,57.62 366.30,57.50 C368.58,57.38 375.38,56.55 380.00,56.80 C384.62,57.05 391.17,57.47 394.00,59.00 C396.83,60.53 395.33,63.25 397.00,66.00 C398.67,68.75 401.67,73.17 404.00,75.50 C406.33,77.83 409.75,77.58 411.00,80.00 C412.25,82.42 412.67,87.25 411.50,90.00 C410.33,92.75 405.25,95.42 404.00,96.50 C402.75,97.58 410.28,96.50 404.00,96.50 C397.72,96.50 372.58,96.50 366.30,96.50 C360.02,96.50 366.30,103.00 366.30,96.50 C366.30,90.00 366.30,64.00 366.30,57.50Z" fill="rgb(222,222,222)" stroke="#555" stroke-width="0.5"/>
<path d="M367.00,75.00 C368.83,73.92 373.50,70.17 378.00,68.50 C382.50,66.83 391.33,65.58 394.00,65.00" fill="none" stroke="#f0f0f0" stroke-width="0.8"/>
<path d="M367.00,88.00 C369.17,86.17 375.33,80.00 380.00,77.00 C384.67,74.00 392.50,71.17 395.00,70.00" fill="none" stroke="#f0f0f0" stroke-width="0.8"/>
<path d="M370.00,96.00 C371.33,94.67 375.50,91.00 378.00,88.00 C380.50,85.00 383.83,79.67 385.00,78.00" fill="none" stroke="#777" stroke-width="0.5"/>
<path d="M366.30,59.00 C367.58,57.75 371.05,57.78 374.00,57.50 C376.95,57.22 381.00,57.05 384.00,57.30 C387.00,57.55 390.25,58.22 392.00,59.00 C393.75,59.78 394.83,60.92 394.50,62.00 C394.17,63.08 392.42,64.75 390.00,65.50 C387.58,66.25 383.33,66.42 380.00,66.50 C376.67,66.58 372.28,66.25 370.00,66.00 C367.72,65.75 366.92,66.17 366.30,65.00 C365.68,63.83 365.02,60.25 366.30,59.00Z" fill="rgb(212,212,212)" stroke="#555" stroke-width="0.5"/>
<path d="M370.19,59.22 C371.19,58.24 373.90,58.27 376.20,58.05 C378.50,57.83 381.66,57.70 384.00,57.89 C386.34,58.09 388.88,58.61 390.24,59.22 C391.61,59.83 392.45,60.72 392.19,61.56 C391.93,62.41 390.56,63.71 388.68,64.29 C386.80,64.88 383.48,65.01 380.88,65.07 C378.28,65.14 374.86,64.88 373.08,64.68 C371.30,64.49 370.68,64.81 370.19,63.90 C369.71,62.99 369.19,60.20 370.19,59.22Z" fill="rgb(196,196,196)" stroke="#666" stroke-width="0.45"/>
<path d="M374.09,59.44 C374.81,58.74 376.75,58.76 378.40,58.60 C380.05,58.44 382.32,58.35 384.00,58.49 C385.68,58.63 387.50,59.00 388.48,59.44 C389.46,59.88 390.07,60.51 389.88,61.12 C389.69,61.73 388.71,62.66 387.36,63.08 C386.01,63.50 383.63,63.59 381.76,63.64 C379.89,63.69 377.44,63.50 376.16,63.36 C374.88,63.22 374.43,63.45 374.09,62.80 C373.74,62.15 373.37,60.14 374.09,59.44Z" fill="rgb(206,206,206)" stroke="#555" stroke-width="0.45"/>
<path d="M377.63,59.64 C378.09,59.19 379.34,59.20 380.40,59.10 C381.46,59.00 382.92,58.94 384.00,59.03 C385.08,59.12 386.25,59.36 386.88,59.64 C387.51,59.92 387.90,60.33 387.78,60.72 C387.66,61.11 387.03,61.71 386.16,61.98 C385.29,62.25 383.76,62.31 382.56,62.34 C381.36,62.37 379.78,62.25 378.96,62.16 C378.14,62.07 377.85,62.22 377.63,61.80 C377.41,61.38 377.17,60.09 377.63,59.64Z" fill="rgb(188,188,188)" stroke="#555" stroke-width="0.45"/>
<path d="M380.81,59.82 C381.04,59.59 381.67,59.60 382.20,59.55 C382.73,59.50 383.46,59.47 384.00,59.51 C384.54,59.56 385.12,59.68 385.44,59.82 C385.75,59.96 385.95,60.16 385.89,60.36 C385.83,60.55 385.51,60.86 385.08,60.99 C384.64,61.12 383.88,61.16 383.28,61.17 C382.68,61.19 381.89,61.12 381.48,61.08 C381.07,61.03 380.92,61.11 380.81,60.90 C380.70,60.69 380.58,60.05 380.81,59.82Z" fill="rgb(215,215,215)" stroke="#666" stroke-width="0.4"/>
<path d="M376.00,58.40 C377.00,58.28 379.83,57.67 382.00,57.70 C384.17,57.73 387.83,58.45 389.00,58.60" fill="none" stroke="#333" stroke-width="1.0" stroke-linecap="round"/>
<path d="M398.00,83.00 C398.55,81.08 401.47,78.50 403.30,78.00 C405.13,77.50 407.88,78.67 409.00,80.00 C410.12,81.33 410.50,84.33 410.00,86.00 C409.50,87.67 407.67,89.42 406.00,90.00 C404.33,90.58 401.33,90.67 400.00,89.50 C398.67,88.33 397.45,84.92 398.00,83.00Z" fill="rgb(225,225,225)" stroke="#666" stroke-width="0.45"/>
<path d="M399.54,83.28 C399.94,81.90 402.04,80.04 403.36,79.68 C404.68,79.32 406.66,80.16 407.46,81.12 C408.26,82.08 408.54,84.24 408.18,85.44 C407.82,86.64 406.50,87.90 405.30,88.32 C404.10,88.74 401.94,88.80 400.98,87.96 C400.02,87.12 399.14,84.66 399.54,83.28Z" fill="rgb(210,210,210)" stroke="#777" stroke-width="0.45"/>
<path d="M401.02,83.55 C401.27,82.69 402.59,81.52 403.41,81.30 C404.24,81.08 405.47,81.60 405.98,82.20 C406.48,82.80 406.65,84.15 406.43,84.90 C406.20,85.65 405.38,86.44 404.62,86.70 C403.88,86.96 402.53,87.00 401.93,86.47 C401.32,85.95 400.78,84.41 401.02,83.55Z" fill="rgb(200,200,200)" stroke="#777" stroke-width="0.45"/>
<path d="M402.40,83.80 C402.51,83.42 403.09,82.90 403.46,82.80 C403.83,82.70 404.38,82.93 404.60,83.20 C404.82,83.47 404.90,84.07 404.80,84.40 C404.70,84.73 404.33,85.08 404.00,85.20 C403.67,85.32 403.07,85.33 402.80,85.10 C402.53,84.87 402.29,84.18 402.40,83.80Z" fill="rgb(235,235,235)" stroke="#888" stroke-width="0.4"/>
<path d="M378.50,79.00 C379.75,77.25 381.92,76.50 384.00,76.50 C386.08,76.50 389.67,77.25 391.00,79.00 C392.33,80.75 392.17,84.17 392.00,87.00 C391.83,89.83 392.33,94.50 390.00,96.00 C387.67,97.50 380.25,97.50 378.00,96.00 C375.75,94.50 376.42,89.83 376.50,87.00 C376.58,84.17 377.25,80.75 378.50,79.00Z" fill="rgb(212,212,212)" stroke="#555" stroke-width="0.5"/>
<path d="M379.78,80.54 C380.75,79.18 382.44,78.59 384.07,78.59 C385.69,78.59 388.49,79.18 389.53,80.54 C390.57,81.91 390.44,84.57 390.31,86.78 C390.18,88.99 390.57,92.63 388.75,93.80 C386.93,94.97 381.14,94.97 379.39,93.80 C377.63,92.63 378.15,88.99 378.22,86.78 C378.28,84.57 378.80,81.91 379.78,80.54Z" fill="rgb(196,196,196)" stroke="#666" stroke-width="0.45"/>
<path d="M381.05,82.08 C381.75,81.10 382.97,80.68 384.13,80.68 C385.30,80.68 387.31,81.10 388.05,82.08 C388.80,83.06 388.71,84.97 388.61,86.56 C388.52,88.15 388.80,90.76 387.49,91.60 C386.19,92.44 382.03,92.44 380.77,91.60 C379.51,90.76 379.89,88.15 379.93,86.56 C379.98,84.97 380.35,83.06 381.05,82.08Z" fill="rgb(206,206,206)" stroke="#555" stroke-width="0.45"/>
<path d="M382.21,83.48 C382.66,82.85 383.44,82.58 384.19,82.58 C384.94,82.58 386.23,82.85 386.71,83.48 C387.19,84.11 387.13,85.34 387.07,86.36 C387.01,87.38 387.19,89.06 386.35,89.60 C385.51,90.14 382.84,90.14 382.03,89.60 C381.22,89.06 381.46,87.38 381.49,86.36 C381.52,85.34 381.76,84.11 382.21,83.48Z" fill="rgb(188,188,188)" stroke="#555" stroke-width="0.45"/>
<path d="M383.26,84.74 C383.48,84.42 383.87,84.29 384.25,84.29 C384.62,84.29 385.27,84.42 385.51,84.74 C385.75,85.05 385.72,85.67 385.69,86.18 C385.66,86.69 385.75,87.53 385.33,87.80 C384.91,88.07 383.57,88.07 383.17,87.80 C382.76,87.53 382.88,86.69 382.90,86.18 C382.91,85.67 383.03,85.05 383.26,84.74Z" fill="rgb(215,215,215)" stroke="#666" stroke-width="0.4"/>
<path d="M382.50,80.00 C382.42,81.33 381.92,85.50 382.00,88.00 C382.08,90.50 382.83,93.83 383.00,95.00" fill="none" stroke="#222" stroke-width="1.0"/>
<path d="M386.50,80.00 C386.50,81.33 386.33,85.50 386.50,88.00 C386.67,90.50 387.33,93.83 387.50,95.00" fill="none" stroke="#333" stroke-width="0.9"/>
<path d="M397.00,59.50 C398.20,58.27 401.75,58.75 404.00,58.60 C406.25,58.45 409.03,57.95 410.50,58.60 C411.97,59.25 412.97,60.85 412.80,62.50 C412.63,64.15 410.80,66.92 409.50,68.50 C408.20,70.08 406.75,71.58 405.00,72.00 C403.25,72.42 400.37,72.00 399.00,71.00 C397.63,70.00 397.13,67.92 396.80,66.00 C396.47,64.08 395.80,60.73 397.00,59.50Z" fill="rgb(196,196,196)" stroke="#777" stroke-width="0.4"/>
<path d="M401.00,61.00 C401.75,59.72 404.33,59.50 406.00,59.30 C407.67,59.10 410.03,59.18 411.00,59.80 C411.97,60.42 412.22,61.72 411.80,63.00 C411.38,64.28 409.72,66.33 408.50,67.50 C407.28,68.67 405.67,70.08 404.50,70.00 C403.33,69.92 402.08,68.50 401.50,67.00 C400.92,65.50 400.25,62.28 401.00,61.00Z" fill="rgb(120,120,120)"/>
<path d="M403.30,62.20 C403.87,61.18 405.78,60.62 407.00,60.40 C408.22,60.18 410.13,60.22 410.60,60.90 C411.07,61.58 410.52,63.35 409.80,64.50 C409.08,65.65 407.33,67.47 406.30,67.80 C405.27,68.13 404.10,67.43 403.60,66.50 C403.10,65.57 402.73,63.22 403.30,62.20Z" fill="rgb(25,25,25)"/>
<circle cx="404.8" cy="65.8" r="0.65" fill="#fff"/><circle cx="406.8" cy="64.1" r="0.6" fill="#eee"/>
<path d="M365.9,57.5 C367.09999999999997,59 368.2,61 368.2,63 L368.2,95.9 L365.9,95.9 Z" fill="#0a0a0a"/>
<path d="M365.9,94.2 L389,94.2 C391,94.4 392,95.30000000000001 393,95.9 L365.9,95.9 Z" fill="#1a1a1a"/>
</g>
<rect x="365.9" y="42.9" width="52.900000000000034" height="53.00000000000001" fill="none" stroke="#8a8a8a" stroke-width="0.9"/>
<rect x="395.5" y="56.4" width="18.399999999999977" height="18.1" fill="none" stroke="#606060" stroke-width="0.8"/>
<text x="404.5" y="51.3" font-size="5" text-anchor="middle" fill="#444" stroke="#444" style="stroke-width:0.1px">17.2</text>
<g clip-path="url(#clip5)">
<path d="M433.60,56.50 C433.60,49.92 431.20,56.62 433.60,56.50 C436.00,56.38 443.43,55.72 448.00,55.80 C452.57,55.88 458.42,55.80 461.00,57.00 C463.58,58.20 463.50,60.00 463.50,63.00 C463.50,66.00 461.25,71.17 461.00,75.00 C460.75,78.83 462.00,82.50 462.00,86.00 C462.00,89.50 461.17,94.33 461.00,96.00 C460.83,97.67 465.57,96.00 461.00,96.00 C456.43,96.00 438.17,96.00 433.60,96.00 C429.03,96.00 433.60,102.58 433.60,96.00 C433.60,89.42 433.60,63.08 433.60,56.50Z" fill="rgb(222,222,222)" stroke="#555" stroke-width="0.5"/>
<path d="M434.00,67.00 C435.83,68.00 441.50,70.33 445.00,73.00 C448.50,75.67 452.33,80.33 455.00,83.00 C457.67,85.67 460.00,88.00 461.00,89.00" fill="none" stroke="#f2f2f2" stroke-width="0.8"/>
<path d="M434.00,79.00 C435.67,80.00 441.33,82.67 444.00,85.00 C446.67,87.33 449.00,91.67 450.00,93.00" fill="none" stroke="#f2f2f2" stroke-width="0.8"/>
<path d="M434.00,72.00 C436.00,73.33 443.00,77.33 446.00,80.00 C449.00,82.67 451.00,86.67 452.00,88.00" fill="none" stroke="#777" stroke-width="0.5"/>
<path d="M436.00,63.50 C437.83,63.83 443.83,64.83 447.00,65.50 C450.17,66.17 452.42,67.00 455.00,67.50 C457.58,68.00 461.25,68.33 462.50,68.50" fill="none" stroke="#444" stroke-width="0.7"/>
<path d="M434.00,58.80 C435.33,57.90 439.33,57.93 442.00,57.60 C444.67,57.27 447.50,56.97 450.00,56.80 C452.50,56.63 455.08,56.30 457.00,56.60 C458.92,56.90 460.92,57.57 461.50,58.60 C462.08,59.63 461.58,61.87 460.50,62.80 C459.42,63.73 457.58,64.03 455.00,64.20 C452.42,64.37 448.50,64.00 445.00,63.80 C441.50,63.60 435.83,63.83 434.00,63.00 C432.17,62.17 432.67,59.70 434.00,58.80Z" fill="rgb(212,212,212)" stroke="#555" stroke-width="0.5"/>
<path d="M438.62,59.06 C439.66,58.36 442.78,58.39 444.86,58.13 C446.94,57.87 449.15,57.63 451.10,57.50 C453.05,57.37 455.06,57.11 456.56,57.35 C458.06,57.58 459.62,58.10 460.07,58.91 C460.53,59.71 460.14,61.46 459.29,62.18 C458.44,62.91 457.01,63.15 455.00,63.28 C452.99,63.41 449.93,63.12 447.20,62.96 C444.47,62.81 440.05,62.99 438.62,62.34 C437.19,61.69 437.58,59.77 438.62,59.06Z" fill="rgb(196,196,196)" stroke="#666" stroke-width="0.45"/>
<path d="M443.24,59.33 C443.99,58.82 446.23,58.84 447.72,58.66 C449.21,58.47 450.80,58.30 452.20,58.21 C453.60,58.11 455.05,57.93 456.12,58.10 C457.19,58.26 458.31,58.64 458.64,59.22 C458.97,59.79 458.69,61.05 458.08,61.57 C457.47,62.09 456.45,62.26 455.00,62.35 C453.55,62.45 451.36,62.24 449.40,62.13 C447.44,62.02 444.27,62.15 443.24,61.68 C442.21,61.21 442.49,59.83 443.24,59.33Z" fill="rgb(206,206,206)" stroke="#555" stroke-width="0.45"/>
<path d="M447.44,59.57 C447.92,59.24 449.36,59.26 450.32,59.14 C451.28,59.02 452.30,58.91 453.20,58.85 C454.10,58.79 455.03,58.67 455.72,58.78 C456.41,58.88 457.13,59.12 457.34,59.50 C457.55,59.87 457.37,60.67 456.98,61.01 C456.59,61.34 455.93,61.45 455.00,61.51 C454.07,61.57 452.66,61.44 451.40,61.37 C450.14,61.30 448.10,61.38 447.44,61.08 C446.78,60.78 446.96,59.89 447.44,59.57Z" fill="rgb(188,188,188)" stroke="#555" stroke-width="0.45"/>
<path d="M451.22,59.78 C451.46,59.62 452.18,59.63 452.66,59.57 C453.14,59.51 453.65,59.45 454.10,59.42 C454.55,59.39 455.01,59.33 455.36,59.39 C455.70,59.44 456.06,59.56 456.17,59.75 C456.27,59.93 456.18,60.34 455.99,60.50 C455.79,60.67 455.46,60.73 455.00,60.76 C454.54,60.79 453.83,60.72 453.20,60.68 C452.57,60.65 451.55,60.69 451.22,60.54 C450.89,60.39 450.98,59.95 451.22,59.78Z" fill="rgb(215,215,215)" stroke="#666" stroke-width="0.4"/>
<path d="M446.00,58.60 C446.83,58.37 449.33,57.48 451.00,57.20 C452.67,56.92 454.50,56.82 456.00,56.90 C457.50,56.98 459.13,57.18 460.00,57.70 C460.87,58.22 461.32,59.18 461.20,60.00 C461.08,60.82 460.50,62.13 459.30,62.60 C458.10,63.07 454.88,62.77 454.00,62.80" fill="none" stroke="#111" stroke-width="2.3" stroke-linecap="round"/>
<ellipse cx="455.3" cy="60.4" rx="1.7" ry="1.0" fill="#fff"/>
<path d="M438.00,84.00 C439.17,82.50 441.67,81.50 444.00,81.00 C446.33,80.50 449.50,80.50 452.00,81.00 C454.50,81.50 457.50,82.50 459.00,84.00 C460.50,85.50 461.17,88.00 461.00,90.00 C460.83,92.00 461.50,95.00 458.00,96.00 C454.50,97.00 443.50,97.00 440.00,96.00 C436.50,95.00 437.33,92.00 437.00,90.00 C436.67,88.00 436.83,85.50 438.00,84.00Z" fill="rgb(212,212,212)" stroke="#555" stroke-width="0.5"/>
<path d="M440.31,85.10 C441.22,83.93 443.17,83.15 444.99,82.76 C446.81,82.37 449.28,82.37 451.23,82.76 C453.18,83.15 455.52,83.93 456.69,85.10 C457.86,86.27 458.38,88.22 458.25,89.78 C458.12,91.34 458.64,93.68 455.91,94.46 C453.18,95.24 444.60,95.24 441.87,94.46 C439.14,93.68 439.79,91.34 439.53,89.78 C439.27,88.22 439.40,86.27 440.31,85.10Z" fill="rgb(196,196,196)" stroke="#666" stroke-width="0.45"/>
<path d="M442.62,86.20 C443.27,85.36 444.67,84.80 445.98,84.52 C447.29,84.24 449.06,84.24 450.46,84.52 C451.86,84.80 453.54,85.36 454.38,86.20 C455.22,87.04 455.59,88.44 455.50,89.56 C455.41,90.68 455.78,92.36 453.82,92.92 C451.86,93.48 445.70,93.48 443.74,92.92 C441.78,92.36 442.25,90.68 442.06,89.56 C441.87,88.44 441.97,87.04 442.62,86.20Z" fill="rgb(206,206,206)" stroke="#555" stroke-width="0.45"/>
<path d="M444.72,87.20 C445.14,86.66 446.04,86.30 446.88,86.12 C447.72,85.94 448.86,85.94 449.76,86.12 C450.66,86.30 451.74,86.66 452.28,87.20 C452.82,87.74 453.06,88.64 453.00,89.36 C452.94,90.08 453.18,91.16 451.92,91.52 C450.66,91.88 446.70,91.88 445.44,91.52 C444.18,91.16 444.48,90.08 444.36,89.36 C444.24,88.64 444.30,87.74 444.72,87.20Z" fill="rgb(188,188,188)" stroke="#555" stroke-width="0.45"/>
<path d="M446.61,88.10 C446.82,87.83 447.27,87.65 447.69,87.56 C448.11,87.47 448.68,87.47 449.13,87.56 C449.58,87.65 450.12,87.83 450.39,88.10 C450.66,88.37 450.78,88.82 450.75,89.18 C450.72,89.54 450.84,90.08 450.21,90.26 C449.58,90.44 447.60,90.44 446.97,90.26 C446.34,90.08 446.49,89.54 446.43,89.18 C446.37,88.82 446.40,88.37 446.61,88.10Z" fill="rgb(215,215,215)" stroke="#666" stroke-width="0.4"/>
<path d="M441.00,93.00 C441.25,92.17 441.83,89.17 442.50,88.00 C443.17,86.83 444.25,85.67 445.00,86.00 C445.75,86.33 446.33,90.00 447.00,90.00 C447.67,90.00 448.33,85.67 449.00,86.00 C449.67,86.33 450.33,91.67 451.00,92.00 C451.67,92.33 452.67,88.67 453.00,88.00" fill="none" stroke="#444" stroke-width="0.7"/>
<path d="M456.00,84.00 C456.50,84.67 458.33,86.17 459.00,88.00 C459.67,89.83 459.83,93.83 460.00,95.00" fill="none" stroke="#333" stroke-width="1.2"/>
<path d="M433.2,55.5 C434.4,57 435.5,59 435.5,61 L435.5,95.6 L433.2,95.6 Z" fill="#0a0a0a"/>
<path d="M433.2,93.89999999999999 L458,93.89999999999999 C460,94.1 461,95.0 462,95.6 L433.2,95.6 Z" fill="#1a1a1a"/>
</g>
<rect x="433.2" y="42.9" width="52.69999999999999" height="52.699999999999996" fill="none" stroke="#8a8a8a" stroke-width="0.9"/>
<rect x="464.8" y="54.3" width="19.5" height="14.799999999999997" fill="none" stroke="#606060" stroke-width="0.8"/>
<text x="474.2" y="50.8" font-size="5" text-anchor="middle" fill="#444" stroke="#444" style="stroke-width:0.1px">0.24</text>
<g clip-path="url(#clip6)">
<path d="M367.00,124.00 C367.00,118.00 364.50,124.17 367.00,124.00 C369.50,123.83 377.67,122.83 382.00,123.00 C386.33,123.17 390.50,123.50 393.00,125.00 C395.50,126.50 395.33,129.50 397.00,132.00 C398.67,134.50 401.00,137.33 403.00,140.00 C405.00,142.67 408.17,145.33 409.00,148.00 C409.83,150.67 409.17,154.00 408.00,156.00 C406.83,158.00 403.00,159.33 402.00,160.00 C401.00,160.67 407.83,160.00 402.00,160.00 C396.17,160.00 372.83,160.00 367.00,160.00 C361.17,160.00 367.00,166.00 367.00,160.00 C367.00,154.00 367.00,130.00 367.00,124.00Z" fill="rgb(222,222,222)" stroke="#555" stroke-width="0.5"/>
<path d="M367.00,126.00 C368.83,124.83 374.17,124.25 378.00,124.00 C381.83,123.75 387.33,124.00 390.00,124.50 C392.67,125.00 394.00,125.92 394.00,127.00 C394.00,128.08 392.67,130.25 390.00,131.00 C387.33,131.75 381.83,131.50 378.00,131.50 C374.17,131.50 368.83,131.92 367.00,131.00 C365.17,130.08 365.17,127.17 367.00,126.00Z" fill="rgb(212,212,212)" stroke="#555" stroke-width="0.5"/>
<path d="M370.30,126.22 C371.73,125.31 375.89,124.85 378.88,124.66 C381.87,124.47 386.16,124.66 388.24,125.05 C390.32,125.44 391.36,126.16 391.36,127.00 C391.36,127.84 390.32,129.53 388.24,130.12 C386.16,130.71 381.87,130.51 378.88,130.51 C375.89,130.51 371.73,130.84 370.30,130.12 C368.87,129.41 368.87,127.13 370.30,126.22Z" fill="rgb(196,196,196)" stroke="#666" stroke-width="0.45"/>
<path d="M373.60,126.44 C374.63,125.79 377.61,125.46 379.76,125.32 C381.91,125.18 384.99,125.32 386.48,125.60 C387.97,125.88 388.72,126.39 388.72,127.00 C388.72,127.61 387.97,128.82 386.48,129.24 C384.99,129.66 381.91,129.52 379.76,129.52 C377.61,129.52 374.63,129.75 373.60,129.24 C372.57,128.73 372.57,127.09 373.60,126.44Z" fill="rgb(206,206,206)" stroke="#555" stroke-width="0.45"/>
<path d="M376.60,126.64 C377.26,126.22 379.18,126.01 380.56,125.92 C381.94,125.83 383.92,125.92 384.88,126.10 C385.84,126.28 386.32,126.61 386.32,127.00 C386.32,127.39 385.84,128.17 384.88,128.44 C383.92,128.71 381.94,128.62 380.56,128.62 C379.18,128.62 377.26,128.77 376.60,128.44 C375.94,128.11 375.94,127.06 376.60,126.64Z" fill="rgb(188,188,188)" stroke="#555" stroke-width="0.45"/>
<path d="M379.30,126.82 C379.63,126.61 380.59,126.51 381.28,126.46 C381.97,126.42 382.96,126.46 383.44,126.55 C383.92,126.64 384.16,126.81 384.16,127.00 C384.16,127.19 383.92,127.58 383.44,127.72 C382.96,127.86 381.97,127.81 381.28,127.81 C380.59,127.81 379.63,127.88 379.30,127.72 C378.97,127.56 378.97,127.03 379.30,126.82Z" fill="rgb(215,215,215)" stroke="#666" stroke-width="0.4"/>
<path d="M375.00,125.80 C376.17,125.58 379.50,124.57 382.00,124.50 C384.50,124.43 388.67,125.25 390.00,125.40" fill="none" stroke="#222" stroke-width="1.3" stroke-linecap="round"/>
<path d="M368.00,140.00 C369.67,139.00 374.00,135.50 378.00,134.00 C382.00,132.50 389.67,131.50 392.00,131.00" fill="none" stroke="#f2f2f2" stroke-width="0.8"/>
<path d="M368.00,150.00 C370.00,148.50 375.50,143.50 380.00,141.00 C384.50,138.50 392.50,136.00 395.00,135.00" fill="none" stroke="#777" stroke-width="0.5"/>
<path d="M372.00,140.00 C374.00,137.67 378.67,136.33 382.00,136.00 C385.33,135.67 389.33,136.67 392.00,138.00 C394.67,139.33 397.33,141.50 398.00,144.00 C398.67,146.50 397.67,150.50 396.00,153.00 C394.33,155.50 391.50,158.00 388.00,159.00 C384.50,160.00 378.00,160.50 375.00,159.00 C372.00,157.50 370.50,153.17 370.00,150.00 C369.50,146.83 370.00,142.33 372.00,140.00Z" fill="rgb(222,222,222)" stroke="#777" stroke-width="0.45"/>
<path d="M374.64,141.76 C376.20,139.94 379.84,138.90 382.44,138.64 C385.04,138.38 388.16,139.16 390.24,140.20 C392.32,141.24 394.40,142.93 394.92,144.88 C395.44,146.83 394.66,149.95 393.36,151.90 C392.06,153.85 389.85,155.80 387.12,156.58 C384.39,157.36 379.32,157.75 376.98,156.58 C374.64,155.41 373.47,152.03 373.08,149.56 C372.69,147.09 373.08,143.58 374.64,141.76Z" fill="rgb(214,214,214)" stroke="#888" stroke-width="0.45"/>
<path d="M377.28,143.52 C378.40,142.21 381.01,141.47 382.88,141.28 C384.75,141.09 386.99,141.65 388.48,142.40 C389.97,143.15 391.47,144.36 391.84,145.76 C392.21,147.16 391.65,149.40 390.72,150.80 C389.79,152.20 388.20,153.60 386.24,154.16 C384.28,154.72 380.64,155.00 378.96,154.16 C377.28,153.32 376.44,150.89 376.16,149.12 C375.88,147.35 376.16,144.83 377.28,143.52Z" fill="rgb(208,208,208)" stroke="#888" stroke-width="0.45"/>
<path d="M379.92,145.28 C380.60,144.49 382.19,144.03 383.32,143.92 C384.45,143.81 385.81,144.15 386.72,144.60 C387.63,145.05 388.53,145.79 388.76,146.64 C388.99,147.49 388.65,148.85 388.08,149.70 C387.51,150.55 386.55,151.40 385.36,151.74 C384.17,152.08 381.96,152.25 380.94,151.74 C379.92,151.23 379.41,149.76 379.24,148.68 C379.07,147.60 379.24,146.07 379.92,145.28Z" fill="rgb(216,216,216)" stroke="#888" stroke-width="0.45"/>
<path d="M386.00,138.00 C386.17,139.33 386.50,142.83 387.00,146.00 C387.50,149.17 388.67,155.17 389.00,157.00" fill="none" stroke="#666" stroke-width="1.2"/>
<path d="M377.00,142.00 C376.83,143.33 375.83,147.33 376.00,150.00 C376.17,152.67 377.67,156.67 378.00,158.00" fill="none" stroke="#888" stroke-width="0.6"/>
<path d="M399.00,146.00 C399.83,144.67 402.33,143.92 404.00,144.00 C405.67,144.08 408.17,145.17 409.00,146.50 C409.83,147.83 409.83,150.75 409.00,152.00 C408.17,153.25 405.67,154.00 404.00,154.00 C402.33,154.00 399.83,153.33 399.00,152.00 C398.17,150.67 398.17,147.33 399.00,146.00Z" fill="rgb(232,232,232)" stroke="#777" stroke-width="0.45"/>
<path d="M401.00,147.20 C401.50,146.40 403.00,145.95 404.00,146.00 C405.00,146.05 406.50,146.70 407.00,147.50 C407.50,148.30 407.50,150.05 407.00,150.80 C406.50,151.55 405.00,152.00 404.00,152.00 C403.00,152.00 401.50,151.60 401.00,150.80 C400.50,150.00 400.50,148.00 401.00,147.20Z" fill="rgb(240,240,240)" stroke="#999" stroke-width="0.45"/>
<path d="M398.50,127.00 C399.08,124.92 400.92,125.00 402.00,125.50 C403.08,126.00 404.75,128.25 405.00,130.00 C405.25,131.75 404.33,134.33 403.50,136.00 C402.67,137.67 400.83,139.67 400.00,140.00 C399.17,140.33 398.75,140.17 398.50,138.00 C398.25,135.83 397.92,129.08 398.50,127.00Z" fill="rgb(234,234,234)"/>
<g transform="translate(409.8,133.1) rotate(-54)"><ellipse rx="7.6" ry="3.7" fill="rgb(205,205,205)" stroke="#888" stroke-width="0.4"/><ellipse rx="5.3" ry="2.1" fill="rgb(40,40,40)" stroke="#111" stroke-width="1.6"/><ellipse rx="3.2" ry="0.55" fill="#fff"/></g>
<path d="M366.5,123.8 C367.7,125.3 368.8,127.3 368.8,129.3 L368.8,159.6 L366.5,159.6 Z" fill="#0a0a0a"/>
<path d="M366.5,157.9 L397,157.9 C399,158.1 400,159.0 401,159.6 L366.5,159.6 Z" fill="#1a1a1a"/>
</g>
<rect x="366.5" y="104.1" width="55.30000000000001" height="55.5" fill="none" stroke="#8a8a8a" stroke-width="0.9"/>
<rect x="397.6" y="122.9" width="20.19999999999999" height="18.400000000000006" fill="none" stroke="#606060" stroke-width="0.8"/>
<text x="407.1" y="118.2" font-size="5" text-anchor="middle" fill="#444" stroke="#444" style="stroke-width:0.1px">15.7</text>
<g clip-path="url(#clip7)">
<path d="M434.20,122.00 C434.20,115.67 431.90,122.08 434.20,122.00 C436.50,121.92 443.70,121.33 448.00,121.50 C452.30,121.67 457.58,121.58 460.00,123.00 C462.42,124.42 462.67,127.50 462.50,130.00 C462.33,132.50 459.75,135.00 459.00,138.00 C458.25,141.00 458.17,144.33 458.00,148.00 C457.83,151.67 458.00,158.00 458.00,160.00 C458.00,162.00 461.97,160.00 458.00,160.00 C454.03,160.00 438.17,160.00 434.20,160.00 C430.23,160.00 434.20,166.33 434.20,160.00 C434.20,153.67 434.20,128.33 434.20,122.00Z" fill="rgb(222,222,222)" stroke="#555" stroke-width="0.5"/>
<path d="M435.00,140.00 C436.67,139.83 441.67,138.83 445.00,139.00 C448.33,139.17 453.33,140.67 455.00,141.00" fill="none" stroke="#f2f2f2" stroke-width="0.8"/>
<path d="M434.20,124.00 C435.50,122.37 439.37,122.40 442.00,122.20 C444.63,122.00 447.33,122.33 450.00,122.80 C452.67,123.27 456.00,123.88 458.00,125.00 C460.00,126.12 462.00,127.92 462.00,129.50 C462.00,131.08 460.00,133.75 458.00,134.50 C456.00,135.25 452.67,134.25 450.00,134.00 C447.33,133.75 444.63,133.33 442.00,133.00 C439.37,132.67 435.50,133.50 434.20,132.00 C432.90,130.50 432.90,125.63 434.20,124.00Z" fill="rgb(212,212,212)" stroke="#555" stroke-width="0.5"/>
<path d="M436.36,124.66 C437.37,123.39 440.39,123.41 442.44,123.26 C444.49,123.10 446.60,123.36 448.68,123.72 C450.76,124.09 453.36,124.57 454.92,125.44 C456.48,126.31 458.04,127.71 458.04,128.95 C458.04,130.19 456.48,132.26 454.92,132.85 C453.36,133.44 450.76,132.66 448.68,132.46 C446.60,132.27 444.49,131.94 442.44,131.68 C440.39,131.42 437.37,132.07 436.36,130.90 C435.34,129.73 435.34,125.93 436.36,124.66Z" fill="rgb(196,196,196)" stroke="#666" stroke-width="0.45"/>
<path d="M438.51,125.32 C439.24,124.41 441.41,124.42 442.88,124.31 C444.35,124.20 445.87,124.39 447.36,124.65 C448.85,124.91 450.72,125.25 451.84,125.88 C452.96,126.51 454.08,127.51 454.08,128.40 C454.08,129.29 452.96,130.78 451.84,131.20 C450.72,131.62 448.85,131.06 447.36,130.92 C445.87,130.78 444.35,130.55 442.88,130.36 C441.41,130.17 439.24,130.64 438.51,129.80 C437.78,128.96 437.78,126.23 438.51,125.32Z" fill="rgb(206,206,206)" stroke="#555" stroke-width="0.45"/>
<path d="M440.47,125.92 C440.94,125.33 442.33,125.34 443.28,125.27 C444.23,125.20 445.20,125.32 446.16,125.49 C447.12,125.66 448.32,125.88 449.04,126.28 C449.76,126.68 450.48,127.33 450.48,127.90 C450.48,128.47 449.76,129.43 449.04,129.70 C448.32,129.97 447.12,129.61 446.16,129.52 C445.20,129.43 444.23,129.28 443.28,129.16 C442.33,129.04 440.94,129.34 440.47,128.80 C440.00,128.26 440.00,126.51 440.47,125.92Z" fill="rgb(188,188,188)" stroke="#555" stroke-width="0.45"/>
<path d="M442.24,126.46 C442.47,126.17 443.17,126.17 443.64,126.14 C444.11,126.10 444.60,126.16 445.08,126.24 C445.56,126.33 446.16,126.44 446.52,126.64 C446.88,126.84 447.24,127.17 447.24,127.45 C447.24,127.73 446.88,128.22 446.52,128.35 C446.16,128.48 445.56,128.31 445.08,128.26 C444.60,128.22 444.11,128.14 443.64,128.08 C443.17,128.02 442.47,128.17 442.24,127.90 C442.00,127.63 442.00,126.75 442.24,126.46Z" fill="rgb(215,215,215)" stroke="#666" stroke-width="0.4"/>
<path d="M436.00,124.20 C437.00,123.97 440.08,122.90 442.00,122.80 C443.92,122.70 446.58,123.47 447.50,123.60" fill="none" stroke="#222" stroke-width="1.4" stroke-linecap="round"/>
<path d="M438.00,130.00 C439.00,130.50 442.00,133.00 444.00,133.00 C446.00,133.00 449.00,130.50 450.00,130.00" fill="none" stroke="#555" stroke-width="0.6"/>
<path d="M451.00,131.00 C451.83,131.50 454.50,134.17 456.00,134.00 C457.50,133.83 459.33,130.67 460.00,130.00" fill="none" stroke="#666" stroke-width="0.6"/>
<path d="M437.00,145.00 C438.33,143.50 441.50,142.17 444.00,142.00 C446.50,141.83 450.17,142.67 452.00,144.00 C453.83,145.33 455.00,147.83 455.00,150.00 C455.00,152.17 453.67,155.58 452.00,157.00 C450.33,158.42 447.33,158.50 445.00,158.50 C442.67,158.50 439.50,158.25 438.00,157.00 C436.50,155.75 436.17,153.00 436.00,151.00 C435.83,149.00 435.67,146.50 437.00,145.00Z" fill="rgb(215,215,215)" stroke="#555" stroke-width="0.5"/>
<path d="M438.60,146.00 C439.67,144.80 442.20,143.73 444.20,143.60 C446.20,143.47 449.13,144.13 450.60,145.20 C452.07,146.27 453.00,148.27 453.00,150.00 C453.00,151.73 451.93,154.47 450.60,155.60 C449.27,156.73 446.87,156.80 445.00,156.80 C443.13,156.80 440.60,156.60 439.40,155.60 C438.20,154.60 437.93,152.40 437.80,150.80 C437.67,149.20 437.53,147.20 438.60,146.00Z" fill="rgb(195,195,195)" stroke="#555" stroke-width="0.5"/>
<path d="M440.20,147.00 C441.00,146.10 442.90,145.30 444.40,145.20 C445.90,145.10 448.10,145.60 449.20,146.40 C450.30,147.20 451.00,148.70 451.00,150.00 C451.00,151.30 450.20,153.35 449.20,154.20 C448.20,155.05 446.40,155.10 445.00,155.10 C443.60,155.10 441.70,154.95 440.80,154.20 C439.90,153.45 439.70,151.80 439.60,150.60 C439.50,149.40 439.40,147.90 440.20,147.00Z" fill="rgb(178,178,178)" stroke="#444" stroke-width="0.55"/>
<path d="M441.80,148.00 C442.33,147.40 443.60,146.87 444.60,146.80 C445.60,146.73 447.07,147.07 447.80,147.60 C448.53,148.13 449.00,149.13 449.00,150.00 C449.00,150.87 448.47,152.23 447.80,152.80 C447.13,153.37 445.93,153.40 445.00,153.40 C444.07,153.40 442.80,153.30 442.20,152.80 C441.60,152.30 441.47,151.20 441.40,150.40 C441.33,149.60 441.27,148.60 441.80,148.00Z" fill="rgb(165,165,165)" stroke="#333" stroke-width="0.55"/>
<path d="M443.40,149.00 C443.67,148.70 444.30,148.43 444.80,148.40 C445.30,148.37 446.03,148.53 446.40,148.80 C446.77,149.07 447.00,149.57 447.00,150.00 C447.00,150.43 446.73,151.12 446.40,151.40 C446.07,151.68 445.47,151.70 445.00,151.70 C444.53,151.70 443.90,151.65 443.60,151.40 C443.30,151.15 443.23,150.60 443.20,150.20 C443.17,149.80 443.13,149.30 443.40,149.00Z" fill="rgb(205,205,205)" stroke="#555" stroke-width="0.45"/>
<path d="M433.8,121.5 C435.0,123 436.1,125 436.1,127 L436.1,159.2 L433.8,159.2 Z" fill="#0a0a0a"/>
<path d="M433.8,157.5 L449,157.5 C451,157.7 452,158.6 453,159.2 L433.8,159.2 Z" fill="#1a1a1a"/>
</g>
<rect x="433.8" y="104.5" width="55.099999999999966" height="54.69999999999999" fill="none" stroke="#8a8a8a" stroke-width="0.9"/>
<rect x="462.9" y="118.5" width="23.5" height="19.099999999999994" fill="none" stroke="#606060" stroke-width="0.8"/>
<text x="474.6" y="130.3" font-size="5" text-anchor="middle" fill="#444" stroke="#444" style="stroke-width:0.1px">0.18</text>
</g>
<text x="0.6" y="196.8" font-size="12" font-weight="bold" fill="#000" stroke="#000">B</text>
<text x="0.4" y="344.6" font-size="12" font-weight="bold" fill="#000" stroke="#000">C</text>
<path d="M57.3,202.2 V301.5 H206.5" fill="none" stroke="#000" stroke-width="1.5"/>
<line x1="54.3" y1="301.5" x2="57.3" y2="301.5" stroke="#000" stroke-width="1.3"/>
<text x="53.699999999999996" y="303.9" font-size="6.8" font-weight="bold" text-anchor="end" fill="#000" stroke="#000">0</text>
<line x1="54.3" y1="268.4" x2="57.3" y2="268.4" stroke="#000" stroke-width="1.3"/>
<text x="53.699999999999996" y="270.79999999999995" font-size="6.8" font-weight="bold" text-anchor="end" fill="#000" stroke="#000">10</text>
<line x1="54.3" y1="235.29999999999998" x2="57.3" y2="235.29999999999998" stroke="#000" stroke-width="1.3"/>
<text x="53.699999999999996" y="237.7" font-size="6.8" font-weight="bold" text-anchor="end" fill="#000" stroke="#000">20</text>
<line x1="54.3" y1="202.2" x2="57.3" y2="202.2" stroke="#000" stroke-width="1.3"/>
<text x="53.699999999999996" y="204.6" font-size="6.8" font-weight="bold" text-anchor="end" fill="#000" stroke="#000">30</text>
<line x1="57.3" y1="301.5" x2="57.3" y2="304.5" stroke="#000" stroke-width="1.3"/>
<text x="57.3" y="311.9" font-size="6.8" font-weight="bold" text-anchor="middle" fill="#000" stroke="#000">-20</text>
<line x1="69.73333333333333" y1="301.5" x2="69.73333333333333" y2="304.5" stroke="#000" stroke-width="1.3"/>
<text x="69.73333333333333" y="311.9" font-size="6.8" font-weight="bold" text-anchor="middle" fill="#000" stroke="#000">-10</text>
<line x1="82.16666666666666" y1="301.5" x2="82.16666666666666" y2="304.5" stroke="#000" stroke-width="1.3"/>
<text x="82.16666666666666" y="311.9" font-size="6.8" font-weight="bold" text-anchor="middle" fill="#000" stroke="#000">0</text>
<line x1="94.6" y1="301.5" x2="94.6" y2="304.5" stroke="#000" stroke-width="1.3"/>
<text x="94.6" y="311.9" font-size="6.8" font-weight="bold" text-anchor="middle" fill="#000" stroke="#000">10</text>
<line x1="107.03333333333333" y1="301.5" x2="107.03333333333333" y2="304.5" stroke="#000" stroke-width="1.3"/>
<text x="107.03333333333333" y="311.9" font-size="6.8" font-weight="bold" text-anchor="middle" fill="#000" stroke="#000">20</text>
<line x1="119.46666666666665" y1="301.5" x2="119.46666666666665" y2="304.5" stroke="#000" stroke-width="1.3"/>
<text x="119.46666666666665" y="311.9" font-size="6.8" font-weight="bold" text-anchor="middle" fill="#000" stroke="#000">30</text>
<line x1="131.89999999999998" y1="301.5" x2="131.89999999999998" y2="304.5" stroke="#000" stroke-width="1.3"/>
<text x="131.89999999999998" y="311.9" font-size="6.8" font-weight="bold" text-anchor="middle" fill="#000" stroke="#000">40</text>
<line x1="144.33333333333331" y1="301.5" x2="144.33333333333331" y2="304.5" stroke="#000" stroke-width="1.3"/>
<text x="144.33333333333331" y="311.9" font-size="6.8" font-weight="bold" text-anchor="middle" fill="#000" stroke="#000">50</text>
<line x1="156.76666666666665" y1="301.5" x2="156.76666666666665" y2="304.5" stroke="#000" stroke-width="1.3"/>
<text x="156.76666666666665" y="311.9" font-size="6.8" font-weight="bold" text-anchor="middle" fill="#000" stroke="#000">60</text>
<line x1="169.2" y1="301.5" x2="169.2" y2="304.5" stroke="#000" stroke-width="1.3"/>
<text x="169.2" y="311.9" font-size="6.8" font-weight="bold" text-anchor="middle" fill="#000" stroke="#000">70</text>
<line x1="181.63333333333333" y1="301.5" x2="181.63333333333333" y2="304.5" stroke="#000" stroke-width="1.3"/>
<text x="181.63333333333333" y="311.9" font-size="6.8" font-weight="bold" text-anchor="middle" fill="#000" stroke="#000">80</text>
<line x1="194.06666666666666" y1="301.5" x2="194.06666666666666" y2="304.5" stroke="#000" stroke-width="1.3"/>
<text x="194.06666666666666" y="311.9" font-size="6.8" font-weight="bold" text-anchor="middle" fill="#000" stroke="#000">90</text>
<line x1="206.5" y1="301.5" x2="206.5" y2="304.5" stroke="#000" stroke-width="1.3"/>
<text x="206.5" y="311.9" font-size="6.8" font-weight="bold" text-anchor="middle" fill="#000" stroke="#000">100</text>
<text x="122.89999999999999" y="324.0" font-size="9.0" font-weight="bold" textLength="21.3" lengthAdjust="spacingAndGlyphs" fill="#000" stroke="#000">days</text>
<text x="41.0" y="252.6" font-size="10.4" font-weight="bold" text-anchor="middle" textLength="100.8" lengthAdjust="spacingAndGlyphs" transform="rotate(-90 41.0 252.6)" fill="#000" stroke="#000">% CD8+ Ki-67+ T cells</text>
<line x1="80.0" y1="202.2" x2="80.0" y2="301.5" stroke="#000" stroke-width="1.6" stroke-dasharray="2.5,2.1"/>
<line x1="82.6" y1="202.2" x2="82.6" y2="301.5" stroke="#000" stroke-width="1.6" stroke-dasharray="2.5,2.1"/>
<rect x="79.6" y="301.5" width="3.399999999999994" height="3.2" fill="#000"/>
<text x="89" y="208.8" font-size="8.2" textLength="83.5" lengthAdjust="spacingAndGlyphs" fill="#000" stroke="#000">OKT8F  administrations</text>
<line x1="92.5" y1="211.7" x2="86.65102764721111" y2="218.38453983175873" stroke="#000" stroke-width="1.1"/>
<path d="M82.7,222.9 L84.62,216.61 L88.68,220.16 Z" fill="#000"/>
<polyline points="65.26,278.66 95.84,231.00 116.98,245.56 194.07,276.01" fill="none" stroke="#000" stroke-width="1.4"/>
<path d="M65.26,277.01 V280.32 M62.96,277.01 H67.56 M62.96,280.32 H67.56" stroke="#505050" stroke-width="1.4" fill="none"/>
<rect x="63.06" y="276.46" width="4.4" height="4.4" fill="#000"/>
<path d="M95.84,217.76 V244.24 M93.54,217.76 H98.14 M93.54,244.24 H98.14" stroke="#505050" stroke-width="1.4" fill="none"/>
<rect x="93.64" y="228.80" width="4.4" height="4.4" fill="#000"/>
<path d="M116.98,239.93 V251.19 M114.68,239.93 H119.28 M114.68,251.19 H119.28" stroke="#505050" stroke-width="1.4" fill="none"/>
<rect x="114.78" y="243.36" width="4.4" height="4.4" fill="#000"/>
<path d="M194.07,270.39 V281.64 M191.77,270.39 H196.37 M191.77,281.64 H196.37" stroke="#505050" stroke-width="1.4" fill="none"/>
<rect x="191.87" y="273.81" width="4.4" height="4.4" fill="#000"/>
<polyline points="65.26,293.56 95.84,284.95 116.98,275.02 194.07,292.56" fill="none" stroke="#6a6a6a" stroke-width="1.4" stroke-dasharray="3.2,1.6"/>
<path d="M65.26,291.36 L67.56,295.36 L62.96,295.36 Z" fill="#707070"/>
<path d="M95.84,281.97 V287.93 M93.54,281.97 H98.14 M93.54,287.93 H98.14" stroke="#8a8a8a" stroke-width="1.4" fill="none"/>
<path d="M95.84,282.75 L98.14,286.75 L93.54,286.75 Z" fill="#707070"/>
<path d="M116.98,266.08 V283.96 M114.68,266.08 H119.28 M114.68,283.96 H119.28" stroke="#8a8a8a" stroke-width="1.4" fill="none"/>
<path d="M116.98,272.82 L119.28,276.82 L114.68,276.82 Z" fill="#707070"/>
<path d="M194.07,290.36 L196.37,294.36 L191.77,294.36 Z" fill="#707070"/>
<line x1="182.7" y1="229.2" x2="197.7" y2="229.2" stroke="#000" stroke-width="1.3"/>
<rect x="188.00" y="227.00" width="4.4" height="4.4" fill="#000"/>
<text x="199.29999999999998" y="232.1" font-size="7.6" textLength="27" lengthAdjust="spacingAndGlyphs" fill="#000" stroke="#000">BM SM</text>
<line x1="182.7" y1="241.5" x2="197.7" y2="241.5" stroke="#6a6a6a" stroke-width="1.3" stroke-dasharray="3.6,2"/>
<path d="M190.20,239.30 L192.50,243.30 L187.90,243.30 Z" fill="#707070"/>
<text x="199.29999999999998" y="244.4" font-size="7.6" textLength="26" lengthAdjust="spacingAndGlyphs" fill="#000" stroke="#000">PB SM</text>
<path d="M357.8,201.9 V301.7 H506.7" fill="none" stroke="#000" stroke-width="1.5"/>
<line x1="354.8" y1="301.7" x2="357.8" y2="301.7" stroke="#000" stroke-width="1.3"/>
<text x="354.2" y="304.09999999999997" font-size="6.8" font-weight="bold" text-anchor="end" fill="#000" stroke="#000">0</text>
<line x1="354.8" y1="268.43333333333334" x2="357.8" y2="268.43333333333334" stroke="#000" stroke-width="1.3"/>
<text x="354.2" y="270.8333333333333" font-size="6.8" font-weight="bold" text-anchor="end" fill="#000" stroke="#000">10</text>
<line x1="354.8" y1="235.16666666666666" x2="357.8" y2="235.16666666666666" stroke="#000" stroke-width="1.3"/>
<text x="354.2" y="237.56666666666666" font-size="6.8" font-weight="bold" text-anchor="end" fill="#000" stroke="#000">20</text>
<line x1="354.8" y1="201.9" x2="357.8" y2="201.9" stroke="#000" stroke-width="1.3"/>
<text x="354.2" y="204.3" font-size="6.8" font-weight="bold" text-anchor="end" fill="#000" stroke="#000">30</text>
<line x1="357.8" y1="301.7" x2="357.8" y2="304.7" stroke="#000" stroke-width="1.3"/>
<text x="357.8" y="312.09999999999997" font-size="6.8" font-weight="bold" text-anchor="middle" fill="#000" stroke="#000">-20</text>
<line x1="370.20833333333337" y1="301.7" x2="370.20833333333337" y2="304.7" stroke="#000" stroke-width="1.3"/>
<text x="370.20833333333337" y="312.09999999999997" font-size="6.8" font-weight="bold" text-anchor="middle" fill="#000" stroke="#000">-10</text>
<line x1="382.6166666666667" y1="301.7" x2="382.6166666666667" y2="304.7" stroke="#000" stroke-width="1.3"/>
<text x="382.6166666666667" y="312.09999999999997" font-size="6.8" font-weight="bold" text-anchor="middle" fill="#000" stroke="#000">0</text>
<line x1="395.025" y1="301.7" x2="395.025" y2="304.7" stroke="#000" stroke-width="1.3"/>
<text x="395.025" y="312.09999999999997" font-size="6.8" font-weight="bold" text-anchor="middle" fill="#000" stroke="#000">10</text>
<line x1="407.43333333333334" y1="301.7" x2="407.43333333333334" y2="304.7" stroke="#000" stroke-width="1.3"/>
<text x="407.43333333333334" y="312.09999999999997" font-size="6.8" font-weight="bold" text-anchor="middle" fill="#000" stroke="#000">20</text>
<line x1="419.8416666666667" y1="301.7" x2="419.8416666666667" y2="304.7" stroke="#000" stroke-width="1.3"/>
<text x="419.8416666666667" y="312.09999999999997" font-size="6.8" font-weight="bold" text-anchor="middle" fill="#000" stroke="#000">30</text>
<line x1="432.25" y1="301.7" x2="432.25" y2="304.7" stroke="#000" stroke-width="1.3"/>
<text x="432.25" y="312.09999999999997" font-size="6.8" font-weight="bold" text-anchor="middle" fill="#000" stroke="#000">40</text>
<line x1="444.6583333333333" y1="301.7" x2="444.6583333333333" y2="304.7" stroke="#000" stroke-width="1.3"/>
<text x="444.6583333333333" y="312.09999999999997" font-size="6.8" font-weight="bold" text-anchor="middle" fill="#000" stroke="#000">50</text>
<line x1="457.06666666666666" y1="301.7" x2="457.06666666666666" y2="304.7" stroke="#000" stroke-width="1.3"/>
<text x="457.06666666666666" y="312.09999999999997" font-size="6.8" font-weight="bold" text-anchor="middle" fill="#000" stroke="#000">60</text>
<line x1="469.475" y1="301.7" x2="469.475" y2="304.7" stroke="#000" stroke-width="1.3"/>
<text x="469.475" y="312.09999999999997" font-size="6.8" font-weight="bold" text-anchor="middle" fill="#000" stroke="#000">70</text>
<line x1="481.8833333333333" y1="301.7" x2="481.8833333333333" y2="304.7" stroke="#000" stroke-width="1.3"/>
<text x="481.8833333333333" y="312.09999999999997" font-size="6.8" font-weight="bold" text-anchor="middle" fill="#000" stroke="#000">80</text>
<line x1="494.29166666666663" y1="301.7" x2="494.29166666666663" y2="304.7" stroke="#000" stroke-width="1.3"/>
<text x="494.29166666666663" y="312.09999999999997" font-size="6.8" font-weight="bold" text-anchor="middle" fill="#000" stroke="#000">90</text>
<line x1="506.7" y1="301.7" x2="506.7" y2="304.7" stroke="#000" stroke-width="1.3"/>
<text x="506.7" y="312.09999999999997" font-size="6.8" font-weight="bold" text-anchor="middle" fill="#000" stroke="#000">100</text>
<text x="421.1" y="324.4" font-size="9.0" font-weight="bold" textLength="21.3" lengthAdjust="spacingAndGlyphs" fill="#000" stroke="#000">days</text>
<text x="338.8" y="252.2" font-size="10.4" font-weight="bold" text-anchor="middle" textLength="100.8" lengthAdjust="spacingAndGlyphs" transform="rotate(-90 338.8 252.2)" fill="#000" stroke="#000">% CD8+ Ki-67+ T cells</text>
<line x1="380.5" y1="201.9" x2="380.5" y2="301.7" stroke="#000" stroke-width="1.6" stroke-dasharray="2.5,2.1"/>
<line x1="383.2" y1="201.9" x2="383.2" y2="301.7" stroke="#000" stroke-width="1.6" stroke-dasharray="2.5,2.1"/>
<rect x="380.1" y="301.7" width="3.4999999999999885" height="3.2" fill="#000"/>
<text x="390.4" y="205.0" font-size="8.2" textLength="80.4" lengthAdjust="spacingAndGlyphs" fill="#000" stroke="#000">OKT8F administrations</text>
<line x1="393.6" y1="205.8" x2="386.2607955652987" y2="213.7829942973944" stroke="#000" stroke-width="1.1"/>
<path d="M382.2,218.2 L384.27,211.96 L388.25,215.61 Z" fill="#000"/>
<polyline points="364.75,262.11 396.27,234.83 417.36,235.17 494.29,248.81" fill="none" stroke="#000" stroke-width="1.4"/>
<path d="M364.75,251.80 V272.43 M362.45,251.80 H367.05 M362.45,272.43 H367.05" stroke="#505050" stroke-width="1.4" fill="none"/>
<circle cx="364.75" cy="262.11" r="2.2" fill="#000"/>
<path d="M396.27,220.86 V248.81 M393.97,220.86 H398.57 M393.97,248.81 H398.57" stroke="#505050" stroke-width="1.4" fill="none"/>
<circle cx="396.27" cy="234.83" r="2.2" fill="#000"/>
<path d="M417.36,221.19 V249.14 M415.06,221.19 H419.66 M415.06,249.14 H419.66" stroke="#505050" stroke-width="1.4" fill="none"/>
<circle cx="417.36" cy="235.17" r="2.2" fill="#000"/>
<path d="M494.29,236.50 V261.11 M491.99,236.50 H496.59 M491.99,261.11 H496.59" stroke="#505050" stroke-width="1.4" fill="none"/>
<circle cx="494.29" cy="248.81" r="2.2" fill="#000"/>
<polyline points="364.75,289.72 396.27,276.75 417.36,274.42 494.29,290.06" fill="none" stroke="#6a6a6a" stroke-width="1.4" stroke-dasharray="3.2,1.6"/>
<path d="M364.75,287.92 L366.55,289.72 L364.75,291.52 L362.95,289.72 Z" fill="#707070"/>
<path d="M396.27,272.76 V280.74 M393.97,272.76 H398.57 M393.97,280.74 H398.57" stroke="#8a8a8a" stroke-width="1.4" fill="none"/>
<path d="M396.27,274.95 L398.07,276.75 L396.27,278.55 L394.47,276.75 Z" fill="#707070"/>
<path d="M417.36,267.77 V281.07 M415.06,267.77 H419.66 M415.06,281.07 H419.66" stroke="#8a8a8a" stroke-width="1.4" fill="none"/>
<path d="M417.36,272.62 L419.16,274.42 L417.36,276.22 L415.56,274.42 Z" fill="#707070"/>
<path d="M494.29,288.26 L496.09,290.06 L494.29,291.86 L492.49,290.06 Z" fill="#707070"/>
<line x1="477.2" y1="212.3" x2="491.6" y2="212.3" stroke="#000" stroke-width="1.3"/>
<circle cx="484.40" cy="212.30" r="2.2" fill="#000"/>
<text x="494.0" y="214.70000000000002" font-size="7.6" textLength="28" lengthAdjust="spacingAndGlyphs" fill="#000" stroke="#000">BM RM</text>
<line x1="477.2" y1="223.60000000000002" x2="491.6" y2="223.60000000000002" stroke="#6a6a6a" stroke-width="1.3" stroke-dasharray="3.6,2"/>
<path d="M484.40,221.80 L486.20,223.60 L484.40,225.40 L482.60,223.60 Z" fill="#707070"/>
<text x="494.0" y="226.00000000000003" font-size="7.6" textLength="28" lengthAdjust="spacingAndGlyphs" fill="#000" stroke="#000">PB RM</text>
<path d="M58.1,351.4 V453.1 H210.6" fill="none" stroke="#000" stroke-width="1.5"/>
<line x1="55.1" y1="453.1" x2="58.1" y2="453.1" stroke="#000" stroke-width="1.3"/>
<text x="54.5" y="455.5" font-size="6.8" font-weight="bold" text-anchor="end" fill="#000" stroke="#000">0</text>
<line x1="55.1" y1="419.2" x2="58.1" y2="419.2" stroke="#000" stroke-width="1.3"/>
<text x="54.5" y="421.59999999999997" font-size="6.8" font-weight="bold" text-anchor="end" fill="#000" stroke="#000">10</text>
<line x1="55.1" y1="385.3" x2="58.1" y2="385.3" stroke="#000" stroke-width="1.3"/>
<text x="54.5" y="387.7" font-size="6.8" font-weight="bold" text-anchor="end" fill="#000" stroke="#000">20</text>
<line x1="55.1" y1="351.4" x2="58.1" y2="351.4" stroke="#000" stroke-width="1.3"/>
<text x="54.5" y="353.79999999999995" font-size="6.8" font-weight="bold" text-anchor="end" fill="#000" stroke="#000">30</text>
<line x1="58.1" y1="453.1" x2="58.1" y2="456.1" stroke="#000" stroke-width="1.3"/>
<text x="58.1" y="463.5" font-size="6.8" font-weight="bold" text-anchor="middle" fill="#000" stroke="#000">-20</text>
<line x1="70.80833333333334" y1="453.1" x2="70.80833333333334" y2="456.1" stroke="#000" stroke-width="1.3"/>
<text x="70.80833333333334" y="463.5" font-size="6.8" font-weight="bold" text-anchor="middle" fill="#000" stroke="#000">-10</text>
<line x1="83.51666666666667" y1="453.1" x2="83.51666666666667" y2="456.1" stroke="#000" stroke-width="1.3"/>
<text x="83.51666666666667" y="463.5" font-size="6.8" font-weight="bold" text-anchor="middle" fill="#000" stroke="#000">0</text>
<line x1="96.225" y1="453.1" x2="96.225" y2="456.1" stroke="#000" stroke-width="1.3"/>
<text x="96.225" y="463.5" font-size="6.8" font-weight="bold" text-anchor="middle" fill="#000" stroke="#000">10</text>
<line x1="108.93333333333334" y1="453.1" x2="108.93333333333334" y2="456.1" stroke="#000" stroke-width="1.3"/>
<text x="108.93333333333334" y="463.5" font-size="6.8" font-weight="bold" text-anchor="middle" fill="#000" stroke="#000">20</text>
<line x1="121.64166666666667" y1="453.1" x2="121.64166666666667" y2="456.1" stroke="#000" stroke-width="1.3"/>
<text x="121.64166666666667" y="463.5" font-size="6.8" font-weight="bold" text-anchor="middle" fill="#000" stroke="#000">30</text>
<line x1="134.35" y1="453.1" x2="134.35" y2="456.1" stroke="#000" stroke-width="1.3"/>
<text x="134.35" y="463.5" font-size="6.8" font-weight="bold" text-anchor="middle" fill="#000" stroke="#000">40</text>
<line x1="147.05833333333334" y1="453.1" x2="147.05833333333334" y2="456.1" stroke="#000" stroke-width="1.3"/>
<text x="147.05833333333334" y="463.5" font-size="6.8" font-weight="bold" text-anchor="middle" fill="#000" stroke="#000">50</text>
<line x1="159.76666666666665" y1="453.1" x2="159.76666666666665" y2="456.1" stroke="#000" stroke-width="1.3"/>
<text x="159.76666666666665" y="463.5" font-size="6.8" font-weight="bold" text-anchor="middle" fill="#000" stroke="#000">60</text>
<line x1="172.475" y1="453.1" x2="172.475" y2="456.1" stroke="#000" stroke-width="1.3"/>
<text x="172.475" y="463.5" font-size="6.8" font-weight="bold" text-anchor="middle" fill="#000" stroke="#000">70</text>
<line x1="185.18333333333334" y1="453.1" x2="185.18333333333334" y2="456.1" stroke="#000" stroke-width="1.3"/>
<text x="185.18333333333334" y="463.5" font-size="6.8" font-weight="bold" text-anchor="middle" fill="#000" stroke="#000">80</text>
<line x1="197.89166666666665" y1="453.1" x2="197.89166666666665" y2="456.1" stroke="#000" stroke-width="1.3"/>
<text x="197.89166666666665" y="463.5" font-size="6.8" font-weight="bold" text-anchor="middle" fill="#000" stroke="#000">90</text>
<line x1="210.6" y1="453.1" x2="210.6" y2="456.1" stroke="#000" stroke-width="1.3"/>
<text x="210.6" y="463.5" font-size="6.8" font-weight="bold" text-anchor="middle" fill="#000" stroke="#000">100</text>
<text x="123.8" y="474.0" font-size="9.0" font-weight="bold" textLength="21.3" lengthAdjust="spacingAndGlyphs" fill="#000" stroke="#000">days</text>
<text x="42.0" y="402.2" font-size="10.4" font-weight="bold" text-anchor="middle" textLength="100.8" lengthAdjust="spacingAndGlyphs" transform="rotate(-90 42.0 402.2)" fill="#000" stroke="#000">% CD4+ Ki-67+ T cells</text>
<line x1="80.7" y1="351.4" x2="80.7" y2="453.1" stroke="#000" stroke-width="1.6" stroke-dasharray="2.5,2.1"/>
<line x1="83.9" y1="351.4" x2="83.9" y2="453.1" stroke="#000" stroke-width="1.6" stroke-dasharray="2.5,2.1"/>
<rect x="80.3" y="453.1" width="4.000000000000003" height="3.2" fill="#000"/>
<text x="92.2" y="359.6" font-size="8.2" textLength="86.3" lengthAdjust="spacingAndGlyphs" fill="#000" stroke="#000">OKT8F  administrations</text>
<line x1="91.4" y1="361.4" x2="86.02316961770907" y2="368.19489553805994" stroke="#000" stroke-width="1.1"/>
<path d="M82.3,372.9 L83.91,366.52 L88.14,369.87 Z" fill="#000"/>
<polyline points="65.34,430.39 83.52,429.03 97.50,418.86 119.10,421.91 197.89,435.47" fill="none" stroke="#000" stroke-width="1.4"/>
<path d="M65.34,425.64 V435.13 M63.04,425.64 H67.64 M63.04,435.13 H67.64" stroke="#505050" stroke-width="1.4" fill="none"/>
<rect x="63.14" y="428.19" width="4.4" height="4.4" fill="#000"/>
<rect x="81.32" y="426.83" width="4.4" height="4.4" fill="#000"/>
<path d="M97.50,412.08 V425.64 M95.20,412.08 H99.80 M95.20,425.64 H99.80" stroke="#505050" stroke-width="1.4" fill="none"/>
<rect x="95.30" y="416.66" width="4.4" height="4.4" fill="#000"/>
<path d="M119.10,420.22 V423.61 M116.80,420.22 H121.40 M116.80,423.61 H121.40" stroke="#505050" stroke-width="1.4" fill="none"/>
<rect x="116.90" y="419.71" width="4.4" height="4.4" fill="#000"/>
<rect x="195.69" y="433.27" width="4.4" height="4.4" fill="#000"/>
<polyline points="65.34,442.25 83.52,443.61 97.50,438.86 119.10,431.40 197.89,443.61" fill="none" stroke="#6a6a6a" stroke-width="1.4" stroke-dasharray="3.2,1.6"/>
<path d="M65.34,438.86 V445.64 M63.04,438.86 H67.64 M63.04,445.64 H67.64" stroke="#8a8a8a" stroke-width="1.4" fill="none"/>
<path d="M65.34,440.05 L67.64,444.05 L63.04,444.05 Z" fill="#707070"/>
<path d="M83.52,441.41 L85.82,445.41 L81.22,445.41 Z" fill="#707070"/>
<path d="M97.50,437.17 V440.56 M95.20,437.17 H99.80 M95.20,440.56 H99.80" stroke="#8a8a8a" stroke-width="1.4" fill="none"/>
<path d="M97.50,436.66 L99.80,440.66 L95.20,440.66 Z" fill="#707070"/>
<path d="M119.10,423.27 V439.54 M116.80,423.27 H121.40 M116.80,439.54 H121.40" stroke="#8a8a8a" stroke-width="1.4" fill="none"/>
<path d="M119.10,429.20 L121.40,433.20 L116.80,433.20 Z" fill="#707070"/>
<path d="M197.89,441.41 L200.19,445.41 L195.59,445.41 Z" fill="#707070"/>
<line x1="189" y1="372.7" x2="204.2" y2="372.7" stroke="#000" stroke-width="1.3"/>
<rect x="194.40" y="370.50" width="4.4" height="4.4" fill="#000"/>
<text x="205.7" y="375.7" font-size="7.6" textLength="27" lengthAdjust="spacingAndGlyphs" fill="#000" stroke="#000">BM SM</text>
<line x1="189" y1="385.0" x2="204.2" y2="385.0" stroke="#6a6a6a" stroke-width="1.3" stroke-dasharray="3.6,2"/>
<path d="M196.60,382.80 L198.90,386.80 L194.30,386.80 Z" fill="#707070"/>
<text x="205.7" y="388.0" font-size="7.6" textLength="26.2" lengthAdjust="spacingAndGlyphs" fill="#000" stroke="#000">PB SM</text>
<path d="M359.2,351.4 V452.1 H511.5" fill="none" stroke="#000" stroke-width="1.5"/>
<line x1="356.2" y1="452.1" x2="359.2" y2="452.1" stroke="#000" stroke-width="1.3"/>
<text x="355.59999999999997" y="454.5" font-size="6.8" font-weight="bold" text-anchor="end" fill="#000" stroke="#000">0</text>
<line x1="356.2" y1="418.53333333333336" x2="359.2" y2="418.53333333333336" stroke="#000" stroke-width="1.3"/>
<text x="355.59999999999997" y="420.93333333333334" font-size="6.8" font-weight="bold" text-anchor="end" fill="#000" stroke="#000">10</text>
<line x1="356.2" y1="384.96666666666664" x2="359.2" y2="384.96666666666664" stroke="#000" stroke-width="1.3"/>
<text x="355.59999999999997" y="387.3666666666666" font-size="6.8" font-weight="bold" text-anchor="end" fill="#000" stroke="#000">20</text>
<line x1="356.2" y1="351.4" x2="359.2" y2="351.4" stroke="#000" stroke-width="1.3"/>
<text x="355.59999999999997" y="353.79999999999995" font-size="6.8" font-weight="bold" text-anchor="end" fill="#000" stroke="#000">30</text>
<line x1="359.2" y1="452.1" x2="359.2" y2="455.1" stroke="#000" stroke-width="1.3"/>
<text x="359.2" y="462.5" font-size="6.8" font-weight="bold" text-anchor="middle" fill="#000" stroke="#000">-20</text>
<line x1="371.89166666666665" y1="452.1" x2="371.89166666666665" y2="455.1" stroke="#000" stroke-width="1.3"/>
<text x="371.89166666666665" y="462.5" font-size="6.8" font-weight="bold" text-anchor="middle" fill="#000" stroke="#000">-10</text>
<line x1="384.5833333333333" y1="452.1" x2="384.5833333333333" y2="455.1" stroke="#000" stroke-width="1.3"/>
<text x="384.5833333333333" y="462.5" font-size="6.8" font-weight="bold" text-anchor="middle" fill="#000" stroke="#000">0</text>
<line x1="397.275" y1="452.1" x2="397.275" y2="455.1" stroke="#000" stroke-width="1.3"/>
<text x="397.275" y="462.5" font-size="6.8" font-weight="bold" text-anchor="middle" fill="#000" stroke="#000">10</text>
<line x1="409.96666666666664" y1="452.1" x2="409.96666666666664" y2="455.1" stroke="#000" stroke-width="1.3"/>
<text x="409.96666666666664" y="462.5" font-size="6.8" font-weight="bold" text-anchor="middle" fill="#000" stroke="#000">20</text>
<line x1="422.6583333333333" y1="452.1" x2="422.6583333333333" y2="455.1" stroke="#000" stroke-width="1.3"/>
<text x="422.6583333333333" y="462.5" font-size="6.8" font-weight="bold" text-anchor="middle" fill="#000" stroke="#000">30</text>
<line x1="435.35" y1="452.1" x2="435.35" y2="455.1" stroke="#000" stroke-width="1.3"/>
<text x="435.35" y="462.5" font-size="6.8" font-weight="bold" text-anchor="middle" fill="#000" stroke="#000">40</text>
<line x1="448.04166666666663" y1="452.1" x2="448.04166666666663" y2="455.1" stroke="#000" stroke-width="1.3"/>
<text x="448.04166666666663" y="462.5" font-size="6.8" font-weight="bold" text-anchor="middle" fill="#000" stroke="#000">50</text>
<line x1="460.73333333333335" y1="452.1" x2="460.73333333333335" y2="455.1" stroke="#000" stroke-width="1.3"/>
<text x="460.73333333333335" y="462.5" font-size="6.8" font-weight="bold" text-anchor="middle" fill="#000" stroke="#000">60</text>
<line x1="473.425" y1="452.1" x2="473.425" y2="455.1" stroke="#000" stroke-width="1.3"/>
<text x="473.425" y="462.5" font-size="6.8" font-weight="bold" text-anchor="middle" fill="#000" stroke="#000">70</text>
<line x1="486.1166666666667" y1="452.1" x2="486.1166666666667" y2="455.1" stroke="#000" stroke-width="1.3"/>
<text x="486.1166666666667" y="462.5" font-size="6.8" font-weight="bold" text-anchor="middle" fill="#000" stroke="#000">80</text>
<line x1="498.80833333333334" y1="452.1" x2="498.80833333333334" y2="455.1" stroke="#000" stroke-width="1.3"/>
<text x="498.80833333333334" y="462.5" font-size="6.8" font-weight="bold" text-anchor="middle" fill="#000" stroke="#000">90</text>
<line x1="511.5" y1="452.1" x2="511.5" y2="455.1" stroke="#000" stroke-width="1.3"/>
<text x="511.5" y="462.5" font-size="6.8" font-weight="bold" text-anchor="middle" fill="#000" stroke="#000">100</text>
<text x="424.7" y="474.4" font-size="9.0" font-weight="bold" textLength="21.3" lengthAdjust="spacingAndGlyphs" fill="#000" stroke="#000">days</text>
<text x="339.7" y="402.2" font-size="10.4" font-weight="bold" text-anchor="middle" textLength="100.8" lengthAdjust="spacingAndGlyphs" transform="rotate(-90 339.7 402.2)" fill="#000" stroke="#000">% CD4+ Ki-67+ T cells</text>
<line x1="381.6" y1="351.4" x2="381.6" y2="452.1" stroke="#000" stroke-width="1.6" stroke-dasharray="2.5,2.1"/>
<line x1="384.6" y1="351.4" x2="384.6" y2="452.1" stroke="#000" stroke-width="1.6" stroke-dasharray="2.5,2.1"/>
<rect x="381.20000000000005" y="452.1" width="3.8" height="3.2" fill="#000"/>
<text x="390.8" y="352.3" font-size="8.2" textLength="85.3" lengthAdjust="spacingAndGlyphs" fill="#000" stroke="#000">OKT8F  administrations</text>
<line x1="394.4" y1="354.5" x2="388.9466260887911" y2="360.470009334376" stroke="#000" stroke-width="1.1"/>
<path d="M384.9,364.9 L386.95,358.65 L390.94,362.29 Z" fill="#000"/>
<polyline points="366.56,415.85 384.58,416.52 398.54,378.59 420.12,403.76 498.81,398.73" fill="none" stroke="#000" stroke-width="1.4"/>
<path d="M366.56,406.11 V425.58 M364.26,406.11 H368.86 M364.26,425.58 H368.86" stroke="#505050" stroke-width="1.4" fill="none"/>
<circle cx="366.56" cy="415.85" r="2.2" fill="#000"/>
<path d="M384.58,408.80 V424.24 M382.28,408.80 H386.88 M382.28,424.24 H386.88" stroke="#505050" stroke-width="1.4" fill="none"/>
<circle cx="384.58" cy="416.52" r="2.2" fill="#000"/>
<path d="M398.54,360.80 V396.38 M396.24,360.80 H400.84 M396.24,396.38 H400.84" stroke="#505050" stroke-width="1.4" fill="none"/>
<circle cx="398.54" cy="378.59" r="2.2" fill="#000"/>
<path d="M420.12,390.34 V417.19 M417.82,390.34 H422.42 M417.82,417.19 H422.42" stroke="#505050" stroke-width="1.4" fill="none"/>
<circle cx="420.12" cy="403.76" r="2.2" fill="#000"/>
<path d="M498.81,371.20 V426.25 M496.51,371.20 H501.11 M496.51,426.25 H501.11" stroke="#505050" stroke-width="1.4" fill="none"/>
<circle cx="498.81" cy="398.73" r="2.2" fill="#000"/>
<polyline points="366.56,443.04 384.58,443.04 398.54,414.84 420.12,435.65 498.81,441.36" fill="none" stroke="#6a6a6a" stroke-width="1.4" stroke-dasharray="3.2,1.6"/>
<path d="M366.56,440.69 V445.39 M364.26,440.69 H368.86 M364.26,445.39 H368.86" stroke="#8a8a8a" stroke-width="1.4" fill="none"/>
<path d="M366.56,441.24 L368.36,443.04 L366.56,444.84 L364.76,443.04 Z" fill="#707070"/>
<path d="M384.58,441.24 L386.38,443.04 L384.58,444.84 L382.78,443.04 Z" fill="#707070"/>
<path d="M398.54,410.48 V419.20 M396.24,410.48 H400.84 M396.24,419.20 H400.84" stroke="#8a8a8a" stroke-width="1.4" fill="none"/>
<path d="M398.54,413.04 L400.34,414.84 L398.54,416.64 L396.74,414.84 Z" fill="#707070"/>
<path d="M420.12,432.63 V438.67 M417.82,432.63 H422.42 M417.82,438.67 H422.42" stroke="#8a8a8a" stroke-width="1.4" fill="none"/>
<path d="M420.12,433.85 L421.92,435.65 L420.12,437.45 L418.32,435.65 Z" fill="#707070"/>
<path d="M498.81,439.56 L500.61,441.36 L498.81,443.16 L497.01,441.36 Z" fill="#707070"/>
<line x1="445.8" y1="367.7" x2="460.7" y2="367.7" stroke="#000" stroke-width="1.3"/>
<circle cx="453.25" cy="367.70" r="2.2" fill="#000"/>
<text x="463.59999999999997" y="370.09999999999997" font-size="6.8" textLength="22.6" lengthAdjust="spacingAndGlyphs" fill="#000" stroke="#000">BM RM</text>
<line x1="445.8" y1="380.0" x2="460.7" y2="380.0" stroke="#6a6a6a" stroke-width="1.3" stroke-dasharray="3.6,2"/>
<path d="M453.25,378.20 L455.05,380.00 L453.25,381.80 L451.45,380.00 Z" fill="#707070"/>
<text x="463.59999999999997" y="382.4" font-size="6.8" textLength="21.1" lengthAdjust="spacingAndGlyphs" fill="#000" stroke="#000">PB RM</text>
</svg>
</body></html>
